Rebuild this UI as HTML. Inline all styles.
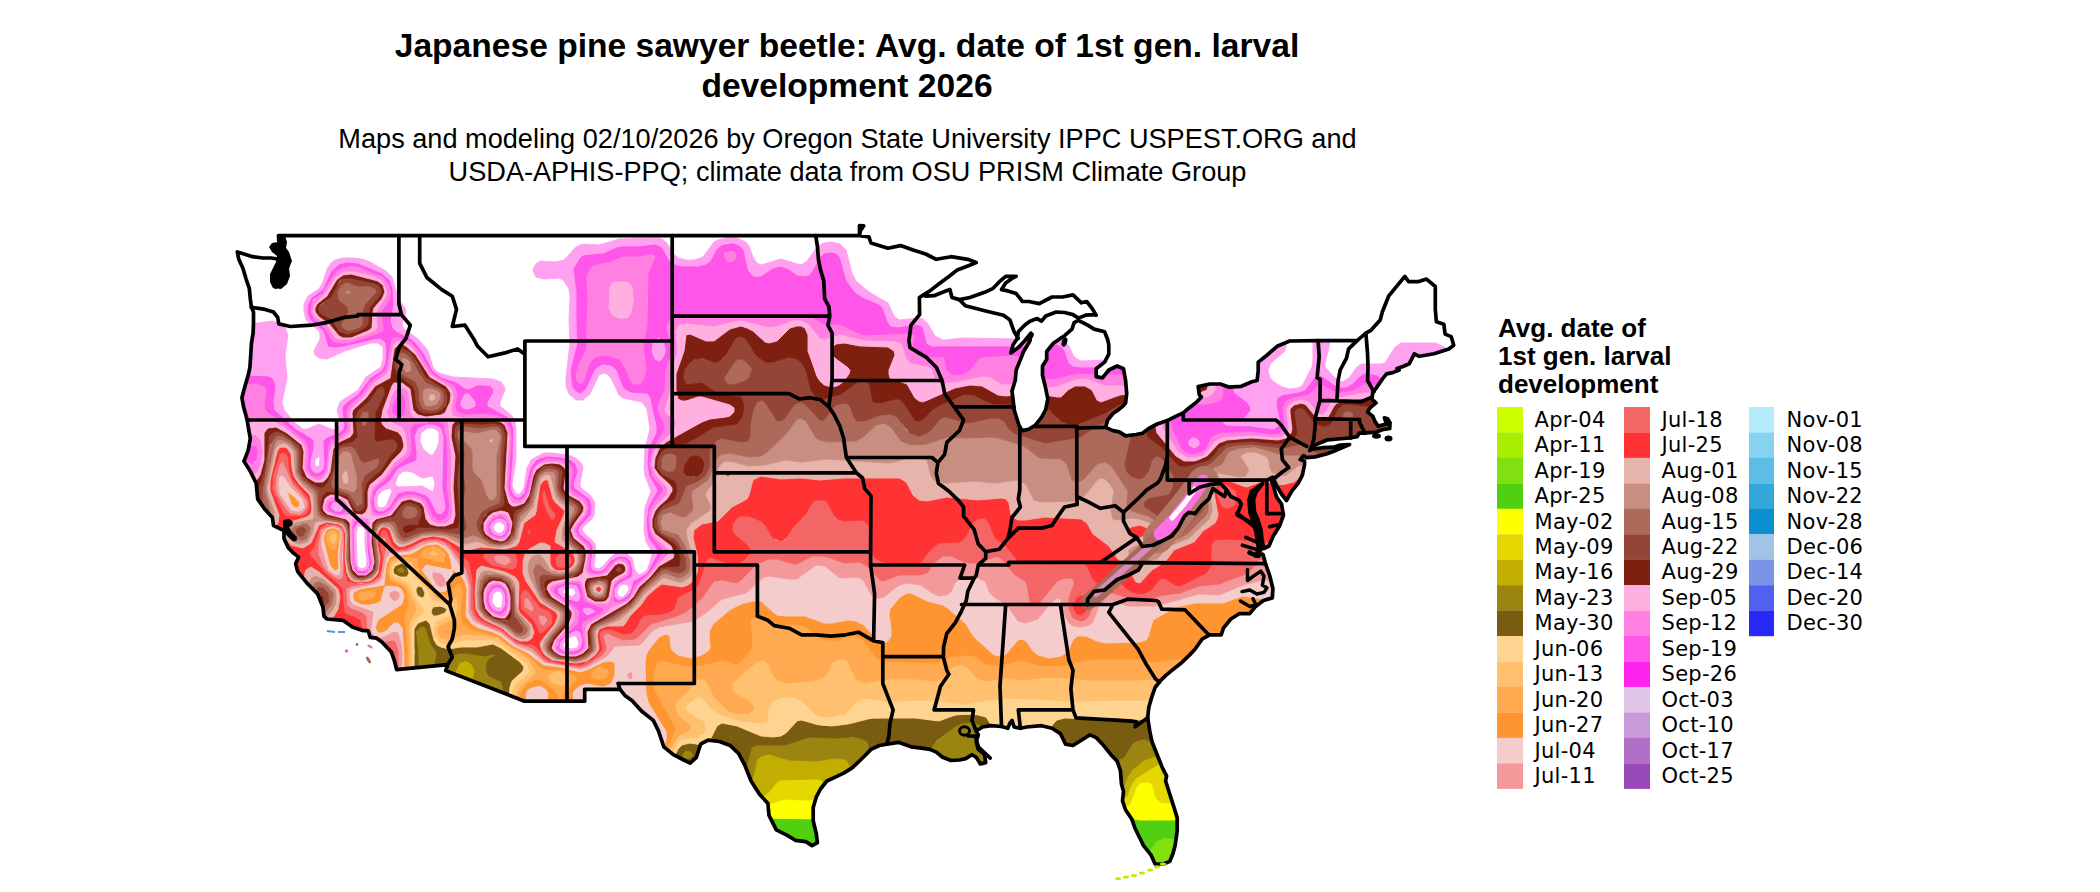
<!DOCTYPE html>
<html><head><meta charset="utf-8"><title>Japanese pine sawyer beetle</title>
<style>
html,body{margin:0;padding:0;background:#fff;}
body{width:2100px;height:892px;overflow:hidden;position:relative;}
svg{position:absolute;left:0;top:0;}
.t{font-family:"Liberation Sans",Arial,sans-serif;font-weight:bold;font-size:33.6px;fill:#000;}
.s{font-family:"Liberation Sans",Arial,sans-serif;font-size:27.15px;fill:#000;}
.lt{font-family:"Liberation Sans",Arial,sans-serif;font-weight:bold;font-size:26px;fill:#000;}
.lab{font-family:"DejaVu Sans",sans-serif;font-size:21px;letter-spacing:0.3px;fill:#000;}
</style></head><body>
<svg width="2100" height="892" viewBox="0 0 2100 892">
<defs><clipPath id="land"><path d="M237.3,251.9 L238.8,259.3 L243.0,268.5 L246.1,279.1 L249.3,288.3 L250.3,298.8 L251.4,307.3 L253.5,312.0 L253.5,322.6 L253.1,333.1 L251.4,343.6 L250.8,354.2 L249.9,367.3 L248.2,375.3 L245.1,385.8 L241.9,397.7 L243.6,406.9 L247.2,420.0 L248.2,426.6 L250.3,438.5 L248.2,450.4 L244.0,461.2 L250.3,471.4 L256.2,483.3 L257.7,499.1 L265.1,509.6 L272.4,517.5 L273.5,525.5 L284.0,530.7 L284.0,538.6 L288.2,547.8 L293.5,553.1 L298.7,557.1 L295.6,563.7 L297.7,571.6 L307.2,583.4 L317.7,594.0 L322.9,607.1 L324.0,616.4 L327.1,619.0 L342.9,620.3 L352.4,626.9 L361.9,630.3 L368.2,630.9 L370.3,637.4 L376.6,638.2 L381.8,641.9 L391.3,651.9 L394.5,661.2 L396.6,669.6 L447.7,664.6 L445.8,670.6 L524.5,701.2 L584.7,701.2 L584.7,689.3 L620.0,689.3 L624.9,695.4 L632.2,700.7 L641.7,711.2 L653.3,720.4 L658.5,731.0 L663.8,746.8 L673.3,754.7 L683.8,760.0 L690.1,763.1 L696.4,757.3 L700.6,744.2 L708.0,740.2 L719.5,741.5 L730.1,745.5 L738.5,753.4 L744.8,765.2 L751.1,781.0 L759.5,794.2 L767.9,803.4 L769.0,815.3 L776.3,829.8 L786.9,835.1 L795.3,840.3 L805.8,841.6 L812.1,845.6 L817.4,842.7 L816.3,833.7 L813.2,820.6 L813.2,807.4 L816.3,796.9 L820.5,789.0 L826.8,781.0 L835.3,777.1 L843.7,773.1 L852.1,767.9 L860.5,760.0 L865.8,754.7 L871.0,749.4 L879.4,745.5 L886.8,744.2 L898.4,742.3 L911.0,746.8 L921.5,748.1 L929.9,749.4 L936.3,752.1 L942.6,757.3 L951.0,760.5 L959.4,760.0 L965.7,758.6 L972.0,754.7 L976.2,757.3 L980.4,763.9 L985.7,762.6 L984.6,754.7 L978.3,749.4 L976.2,741.5 L978.3,734.9 L976.2,731.0 L982.5,727.0 L991.0,725.7 L1001.5,726.5 L1007.8,728.3 L1009.9,723.1 L1012.0,720.4 L1014.1,727.0 L1020.4,728.3 L1026.7,727.0 L1041.5,725.7 L1052.0,728.3 L1060.4,733.6 L1065.6,744.2 L1073.0,745.5 L1081.4,740.2 L1089.8,734.9 L1096.2,737.6 L1102.5,744.2 L1110.9,754.7 L1117.2,761.3 L1120.4,770.5 L1121.4,783.7 L1123.5,791.6 L1122.5,800.8 L1125.6,810.0 L1131.9,819.3 L1135.1,828.5 L1140.3,839.0 L1143.5,845.6 L1150.9,854.8 L1155.1,864.0 L1163.5,864.0 L1169.8,861.4 L1173.0,853.5 L1175.1,845.6 L1177.2,831.1 L1177.2,817.9 L1174.0,807.4 L1169.8,794.2 L1165.6,781.0 L1166.6,775.8 L1162.4,767.9 L1157.2,754.7 L1151.9,741.5 L1149.8,731.0 L1147.7,717.8 L1148.8,707.3 L1151.9,696.7 L1155.1,687.5 L1160.3,680.9 L1165.6,675.6 L1171.9,670.4 L1180.3,663.8 L1188.7,655.9 L1195.0,649.3 L1202.4,638.8 L1209.8,634.8 L1221.3,634.8 L1223.4,628.2 L1230.8,619.0 L1239.2,613.7 L1249.7,613.7 L1255.0,607.1 L1263.4,600.5 L1272.3,597.9 L1272.9,588.7 L1269.7,575.5 L1265.5,563.7 L1263.0,554.4 L1256.1,553.1 L1259.0,556.0 L1258.0,545.0 L1256.0,532.0 L1253.0,522.0 L1250.0,512.7 L1249.0,500.0 L1251.4,491.4 L1262.6,483.5 L1256.0,492.0 L1253.5,500.0 L1254.5,512.0 L1258.0,520.0 L1261.0,530.0 L1262.0,540.0 L1264.0,548.5 L1269.0,546.0 L1273.0,536.5 L1279.5,526.0 L1283.5,515.0 L1281.5,504.0 L1276.5,497.0 L1274.0,488.0 L1271.0,479.5 L1274.5,481.0 L1278.0,488.0 L1281.5,494.0 L1286.5,500.5 L1291.8,491.2 L1298.1,483.3 L1302.3,475.4 L1304.5,464.8 L1304.5,460.9 L1300.2,459.6 L1303.4,455.6 L1306.6,457.7 L1315.0,456.9 L1325.5,454.3 L1336.0,450.4 L1349.5,444.6 L1340.2,445.1 L1333.9,447.2 L1323.4,447.7 L1312.9,449.0 L1309.7,450.4 L1311.8,446.4 L1319.2,443.2 L1327.6,439.8 L1338.1,439.0 L1349.7,438.0 L1357.1,436.7 L1359.2,433.2 L1364.4,433.2 L1368.6,432.7 L1374.9,432.4 L1382.3,429.8 L1388.6,428.7 L1389.7,428.5 L1390.1,422.7 L1387.6,418.7 L1384.4,417.9 L1386.5,424.0 L1378.1,426.1 L1374.9,421.4 L1372.8,416.1 L1367.6,412.1 L1369.7,408.2 L1376.0,402.9 L1371.8,399.0 L1372.8,392.4 L1376.0,388.4 L1382.3,379.2 L1386.5,373.9 L1392.8,372.6 L1399.1,370.0 L1397.0,368.6 L1403.0,366.5 L1409.3,363.7 L1414.3,353.8 L1419.2,356.3 L1427.0,355.0 L1434.0,353.8 L1441.0,351.5 L1448.8,348.9 L1453.7,345.2 L1451.2,336.6 L1445.1,334.1 L1443.8,324.3 L1436.4,321.8 L1435.3,309.4 L1435.3,286.5 L1426.5,279.1 L1418.1,281.7 L1408.6,281.7 L1404.8,276.4 L1388.6,296.2 L1382.3,312.0 L1380.2,319.9 L1370.7,330.5 L1365.9,333.1 L1357.1,340.7 L1318.1,340.7 L1289.7,341.0 L1277.1,346.3 L1266.6,355.5 L1258.2,362.1 L1258.2,371.3 L1257.1,380.5 L1251.9,381.8 L1241.3,386.3 L1228.7,387.1 L1220.3,384.0 L1209.8,384.0 L1198.2,386.6 L1199.3,395.0 L1201.4,396.9 L1197.1,401.6 L1188.7,408.2 L1183.3,412.9 L1176.1,416.1 L1167.3,420.6 L1157.2,424.0 L1148.8,428.5 L1142.4,433.2 L1136.1,434.5 L1125.6,435.9 L1119.3,431.9 L1113.0,430.6 L1105.6,427.4 L1107.7,420.0 L1113.0,413.5 L1117.2,410.8 L1123.5,405.6 L1125.6,402.9 L1126.7,393.7 L1125.6,380.5 L1123.5,368.7 L1117.2,366.0 L1108.8,370.0 L1102.5,377.9 L1096.2,376.6 L1096.2,368.7 L1104.6,362.1 L1108.8,354.2 L1108.8,345.0 L1107.7,339.7 L1104.6,331.8 L1094.1,329.1 L1087.7,325.2 L1078.3,320.4 L1074.1,322.6 L1072.0,329.1 L1064.6,335.7 L1060.4,338.4 L1053.0,343.6 L1046.7,351.5 L1046.7,359.4 L1042.5,366.0 L1042.5,375.3 L1045.7,388.4 L1047.8,399.0 L1045.7,409.5 L1041.5,417.4 L1035.1,425.3 L1028.8,429.3 L1022.5,430.6 L1019.4,426.6 L1017.3,420.0 L1014.1,409.5 L1013.0,399.0 L1012.0,391.1 L1015.2,380.5 L1016.2,370.0 L1019.4,362.1 L1023.6,351.5 L1029.9,341.0 L1030.9,333.1 L1024.6,341.0 L1018.3,347.6 L1010.9,352.9 L1013.0,345.0 L1017.3,338.4 L1018.3,331.8 L1024.6,325.2 L1029.9,321.2 L1037.2,318.6 L1041.5,321.2 L1045.7,316.0 L1056.2,312.0 L1064.6,312.5 L1073.0,314.6 L1078.3,318.1 L1085.6,315.2 L1094.1,314.6 L1096.2,315.2 L1091.9,308.1 L1086.7,301.5 L1081.4,302.8 L1073.0,294.9 L1062.5,297.0 L1052.0,297.0 L1039.3,303.6 L1028.8,301.5 L1022.5,301.5 L1016.2,293.6 L1007.8,290.9 L1001.5,289.6 L1005.7,283.0 L1013.0,277.8 L1016.2,276.4 L1005.7,276.4 L999.4,281.7 L993.1,288.3 L984.6,292.3 L969.9,297.5 L959.4,299.6 L952.0,297.5 L949.9,289.6 L942.6,292.3 L934.1,295.7 L925.7,296.2 L923.6,294.9 L929.9,290.9 L938.4,284.3 L948.9,276.4 L957.3,269.9 L967.8,265.9 L976.2,262.5 L967.8,259.3 L951.0,256.7 L936.3,259.3 L925.7,254.0 L913.1,250.1 L900.5,245.6 L887.9,248.2 L871.0,243.0 L868.9,236.9 L859.5,235.6 L859.5,225.6 L863.7,225.9 L860.5,230.3 L859.5,235.6 L278.5,235.6 L278.8,240.9 L284.0,243.5 L284.0,251.4 L286.1,256.7 L288.2,264.6 L286.1,272.5 L284.0,280.4 L275.6,287.0 L279.8,275.1 L280.9,267.2 L278.8,259.3 L271.4,258.0 L263.0,258.0 L252.5,256.7 L244.0,254.0Z"/></clipPath></defs>
<text x="847" y="57" text-anchor="middle" class="t">Japanese pine sawyer beetle: Avg. date of 1st gen. larval</text>
<text x="847" y="96.6" text-anchor="middle" class="t">development 2026</text>
<text x="847.5" y="147.9" text-anchor="middle" class="s">Maps and modeling 02/10/2026 by Oregon State University IPPC USPEST.ORG and</text>
<text x="847.5" y="180.7" text-anchor="middle" class="s">USDA-APHIS-PPQ; climate data from OSU PRISM Climate Group</text>
<g clip-path="url(#land)">
<path d="M237.3,251.9 L238.8,259.3 L243.0,268.5 L246.1,279.1 L249.3,288.3 L250.3,298.8 L251.4,307.3 L253.5,312.0 L253.5,322.6 L253.1,333.1 L251.4,343.6 L250.8,354.2 L249.9,367.3 L248.2,375.3 L245.1,385.8 L241.9,397.7 L243.6,406.9 L247.2,420.0 L248.2,426.6 L250.3,438.5 L248.2,450.4 L244.0,461.2 L250.3,471.4 L256.2,483.3 L257.7,499.1 L265.1,509.6 L272.4,517.5 L273.5,525.5 L284.0,530.7 L284.0,538.6 L288.2,547.8 L293.5,553.1 L298.7,557.1 L295.6,563.7 L297.7,571.6 L307.2,583.4 L317.7,594.0 L322.9,607.1 L324.0,616.4 L327.1,619.0 L342.9,620.3 L352.4,626.9 L361.9,630.3 L368.2,630.9 L370.3,637.4 L376.6,638.2 L381.8,641.9 L391.3,651.9 L394.5,661.2 L396.6,669.6 L447.7,664.6 L445.8,670.6 L524.5,701.2 L584.7,701.2 L584.7,689.3 L620.0,689.3 L624.9,695.4 L632.2,700.7 L641.7,711.2 L653.3,720.4 L658.5,731.0 L663.8,746.8 L673.3,754.7 L683.8,760.0 L690.1,763.1 L696.4,757.3 L700.6,744.2 L708.0,740.2 L719.5,741.5 L730.1,745.5 L738.5,753.4 L744.8,765.2 L751.1,781.0 L759.5,794.2 L767.9,803.4 L769.0,815.3 L776.3,829.8 L786.9,835.1 L795.3,840.3 L805.8,841.6 L812.1,845.6 L817.4,842.7 L816.3,833.7 L813.2,820.6 L813.2,807.4 L816.3,796.9 L820.5,789.0 L826.8,781.0 L835.3,777.1 L843.7,773.1 L852.1,767.9 L860.5,760.0 L865.8,754.7 L871.0,749.4 L879.4,745.5 L886.8,744.2 L898.4,742.3 L911.0,746.8 L921.5,748.1 L929.9,749.4 L936.3,752.1 L942.6,757.3 L951.0,760.5 L959.4,760.0 L965.7,758.6 L972.0,754.7 L976.2,757.3 L980.4,763.9 L985.7,762.6 L984.6,754.7 L978.3,749.4 L976.2,741.5 L978.3,734.9 L976.2,731.0 L982.5,727.0 L991.0,725.7 L1001.5,726.5 L1007.8,728.3 L1009.9,723.1 L1012.0,720.4 L1014.1,727.0 L1020.4,728.3 L1026.7,727.0 L1041.5,725.7 L1052.0,728.3 L1060.4,733.6 L1065.6,744.2 L1073.0,745.5 L1081.4,740.2 L1089.8,734.9 L1096.2,737.6 L1102.5,744.2 L1110.9,754.7 L1117.2,761.3 L1120.4,770.5 L1121.4,783.7 L1123.5,791.6 L1122.5,800.8 L1125.6,810.0 L1131.9,819.3 L1135.1,828.5 L1140.3,839.0 L1143.5,845.6 L1150.9,854.8 L1155.1,864.0 L1163.5,864.0 L1169.8,861.4 L1173.0,853.5 L1175.1,845.6 L1177.2,831.1 L1177.2,817.9 L1174.0,807.4 L1169.8,794.2 L1165.6,781.0 L1166.6,775.8 L1162.4,767.9 L1157.2,754.7 L1151.9,741.5 L1149.8,731.0 L1147.7,717.8 L1148.8,707.3 L1151.9,696.7 L1155.1,687.5 L1160.3,680.9 L1165.6,675.6 L1171.9,670.4 L1180.3,663.8 L1188.7,655.9 L1195.0,649.3 L1202.4,638.8 L1209.8,634.8 L1221.3,634.8 L1223.4,628.2 L1230.8,619.0 L1239.2,613.7 L1249.7,613.7 L1255.0,607.1 L1263.4,600.5 L1272.3,597.9 L1272.9,588.7 L1269.7,575.5 L1265.5,563.7 L1263.0,554.4 L1256.1,553.1 L1259.0,556.0 L1258.0,545.0 L1256.0,532.0 L1253.0,522.0 L1250.0,512.7 L1249.0,500.0 L1251.4,491.4 L1262.6,483.5 L1256.0,492.0 L1253.5,500.0 L1254.5,512.0 L1258.0,520.0 L1261.0,530.0 L1262.0,540.0 L1264.0,548.5 L1269.0,546.0 L1273.0,536.5 L1279.5,526.0 L1283.5,515.0 L1281.5,504.0 L1276.5,497.0 L1274.0,488.0 L1271.0,479.5 L1274.5,481.0 L1278.0,488.0 L1281.5,494.0 L1286.5,500.5 L1291.8,491.2 L1298.1,483.3 L1302.3,475.4 L1304.5,464.8 L1304.5,460.9 L1300.2,459.6 L1303.4,455.6 L1306.6,457.7 L1315.0,456.9 L1325.5,454.3 L1336.0,450.4 L1349.5,444.6 L1340.2,445.1 L1333.9,447.2 L1323.4,447.7 L1312.9,449.0 L1309.7,450.4 L1311.8,446.4 L1319.2,443.2 L1327.6,439.8 L1338.1,439.0 L1349.7,438.0 L1357.1,436.7 L1359.2,433.2 L1364.4,433.2 L1368.6,432.7 L1374.9,432.4 L1382.3,429.8 L1388.6,428.7 L1389.7,428.5 L1390.1,422.7 L1387.6,418.7 L1384.4,417.9 L1386.5,424.0 L1378.1,426.1 L1374.9,421.4 L1372.8,416.1 L1367.6,412.1 L1369.7,408.2 L1376.0,402.9 L1371.8,399.0 L1372.8,392.4 L1376.0,388.4 L1382.3,379.2 L1386.5,373.9 L1392.8,372.6 L1399.1,370.0 L1397.0,368.6 L1403.0,366.5 L1409.3,363.7 L1414.3,353.8 L1419.2,356.3 L1427.0,355.0 L1434.0,353.8 L1441.0,351.5 L1448.8,348.9 L1453.7,345.2 L1451.2,336.6 L1445.1,334.1 L1443.8,324.3 L1436.4,321.8 L1435.3,309.4 L1435.3,286.5 L1426.5,279.1 L1418.1,281.7 L1408.6,281.7 L1404.8,276.4 L1388.6,296.2 L1382.3,312.0 L1380.2,319.9 L1370.7,330.5 L1365.9,333.1 L1357.1,340.7 L1318.1,340.7 L1289.7,341.0 L1277.1,346.3 L1266.6,355.5 L1258.2,362.1 L1258.2,371.3 L1257.1,380.5 L1251.9,381.8 L1241.3,386.3 L1228.7,387.1 L1220.3,384.0 L1209.8,384.0 L1198.2,386.6 L1199.3,395.0 L1201.4,396.9 L1197.1,401.6 L1188.7,408.2 L1183.3,412.9 L1176.1,416.1 L1167.3,420.6 L1157.2,424.0 L1148.8,428.5 L1142.4,433.2 L1136.1,434.5 L1125.6,435.9 L1119.3,431.9 L1113.0,430.6 L1105.6,427.4 L1107.7,420.0 L1113.0,413.5 L1117.2,410.8 L1123.5,405.6 L1125.6,402.9 L1126.7,393.7 L1125.6,380.5 L1123.5,368.7 L1117.2,366.0 L1108.8,370.0 L1102.5,377.9 L1096.2,376.6 L1096.2,368.7 L1104.6,362.1 L1108.8,354.2 L1108.8,345.0 L1107.7,339.7 L1104.6,331.8 L1094.1,329.1 L1087.7,325.2 L1078.3,320.4 L1074.1,322.6 L1072.0,329.1 L1064.6,335.7 L1060.4,338.4 L1053.0,343.6 L1046.7,351.5 L1046.7,359.4 L1042.5,366.0 L1042.5,375.3 L1045.7,388.4 L1047.8,399.0 L1045.7,409.5 L1041.5,417.4 L1035.1,425.3 L1028.8,429.3 L1022.5,430.6 L1019.4,426.6 L1017.3,420.0 L1014.1,409.5 L1013.0,399.0 L1012.0,391.1 L1015.2,380.5 L1016.2,370.0 L1019.4,362.1 L1023.6,351.5 L1029.9,341.0 L1030.9,333.1 L1024.6,341.0 L1018.3,347.6 L1010.9,352.9 L1013.0,345.0 L1017.3,338.4 L1018.3,331.8 L1024.6,325.2 L1029.9,321.2 L1037.2,318.6 L1041.5,321.2 L1045.7,316.0 L1056.2,312.0 L1064.6,312.5 L1073.0,314.6 L1078.3,318.1 L1085.6,315.2 L1094.1,314.6 L1096.2,315.2 L1091.9,308.1 L1086.7,301.5 L1081.4,302.8 L1073.0,294.9 L1062.5,297.0 L1052.0,297.0 L1039.3,303.6 L1028.8,301.5 L1022.5,301.5 L1016.2,293.6 L1007.8,290.9 L1001.5,289.6 L1005.7,283.0 L1013.0,277.8 L1016.2,276.4 L1005.7,276.4 L999.4,281.7 L993.1,288.3 L984.6,292.3 L969.9,297.5 L959.4,299.6 L952.0,297.5 L949.9,289.6 L942.6,292.3 L934.1,295.7 L925.7,296.2 L923.6,294.9 L929.9,290.9 L938.4,284.3 L948.9,276.4 L957.3,269.9 L967.8,265.9 L976.2,262.5 L967.8,259.3 L951.0,256.7 L936.3,259.3 L925.7,254.0 L913.1,250.1 L900.5,245.6 L887.9,248.2 L871.0,243.0 L868.9,236.9 L859.5,235.6 L859.5,225.6 L863.7,225.9 L860.5,230.3 L859.5,235.6 L278.5,235.6 L278.8,240.9 L284.0,243.5 L284.0,251.4 L286.1,256.7 L288.2,264.6 L286.1,272.5 L284.0,280.4 L275.6,287.0 L279.8,275.1 L280.9,267.2 L278.8,259.3 L271.4,258.0 L263.0,258.0 L252.5,256.7 L244.0,254.0Z" fill="#FFFFFF"/>
<path fill="#80E010" stroke="#80E010" stroke-width="0.9" fill-rule="evenodd" d="M1178 839l-18 0l-6 4l-6 11l6 12l10 0l7 -3l6 -17l1 -7z"/>
<path fill="#50D010" stroke="#50D010" stroke-width="0.9" fill-rule="evenodd" d="M1148 853l8 -12l8 -3l14 1l1 -19l-39 0l-11 -2l13 28l6 7zM815 819l-38 0l-9 -1l7 13l19 11l11 2l7 4l7 -4l0 -1l-4 -24z"/>
<path fill="#FFFF00" stroke="#FFFF00" stroke-width="0.9" fill-rule="evenodd" d="M1135 792l-5 12l-8 3l7 11l11 2l39 0l-5 -18l-6 1l-8 -1l-4 -4l-4 -13l-4 -3l-8 1l-5 9zM781 800l-15 5l2 13l47 1l0 -11l2 -8l-16 0l-12 -1l-8 1z"/>
<path fill="#E5D800" stroke="#E5D800" stroke-width="0.9" fill-rule="evenodd" d="M1162 762l-26 16l-4 5l-5 13l-7 5l2 6l8 -3l6 -16l4 -5l4 -1l4 0l4 2l4 14l4 4l8 1l6 -1l-6 -21l0 -6l-6 -13zM775 784l-6 8l-4 3l-6 1l7 9l19 -6l16 1l16 0l5 -10l4 -5l-6 -5l-8 -1l-31 1l-6 4z"/>
<path fill="#C2AE00" stroke="#C2AE00" stroke-width="0.9" fill-rule="evenodd" d="M422 640l0 -1l0 1zM453 676l19 7l3 -8l-1 -8l-5 -5l-8 0l-4 3l-4 11zM1159 755l-15 5l-14 12l-6 16l-3 5l-1 8l7 -5l5 -13l4 -5l26 -16l-3 -7zM757 761l-4 16l-4 5l10 14l6 -1l4 -3l8 -10l4 -2l35 -1l5 1l5 5l2 -2l24 -13l-4 -8l-8 -4l-24 3l-27 -1l-16 -5l-8 -1l-4 2l-4 5z"/>
<path fill="#9C8410" stroke="#9C8410" stroke-width="0.9" fill-rule="evenodd" d="M404 573l1 -3l-3 -3l-4 1l-1 2l1 3l6 0zM418 655l0 15l16 -2l3 -13l-11 -27l-4 -2l-4 3l-2 7l2 19zM422 639l0 1l0 -1zM454 675l5 -12l6 -2l4 1l4 4l2 5l-3 12l32 12l-1 -8l-2 -4l-12 -7l-3 -5l1 -8l2 -4l8 -4l-4 -1l-8 2l-20 -3l-12 2l-4 4l-3 14l8 2zM956 726l-21 17l-6 8l6 3l7 5l9 3l9 0l6 -1l6 -4l3 2l5 7l7 -2l-1 -10l-6 -6l-2 -6l2 -7l-1 -3l5 -3l-6 -6l-8 -1l-7 1l-7 3zM870 753l-1 -8l-1 -3l-8 -4l-51 -1l-24 8l-24 0l-8 1l-4 7l-4 18l4 11l4 -5l4 -17l4 -4l8 -2l20 6l27 1l20 -3l8 1l4 3l4 8l18 -17zM1121 793l7 -17l4 -6l12 -10l15 -5l-4 -12l-11 -4l-8 2l-4 3l-8 13l-4 2l-7 1l2 2l3 9l3 22zM734 738l0 -1l-4 -1l-1 1l5 1zM693 753l-3 -2l-4 -1l-3 3l-1 5l4 2l4 -1l3 -2l0 -4z"/>
<path fill="#7A5C10" stroke="#7A5C10" stroke-width="0.9" fill-rule="evenodd" d="M406 565l-4 -2l-7 3l-2 4l1 4l6 3l7 0l2 -4l0 -3l-3 -5zM399 573l-2 -3l1 -2l4 -1l3 3l-1 3l-5 0zM418 596l4 2l2 -1l1 -4l-3 -6l-4 -1l-2 3l2 7zM437 606l-4 1l-1 2l-1 3l2 4l8 -1l5 -3l1 -3l-2 -1l-8 -2zM415 651l-1 19l4 0l0 -15l-2 -23l2 -3l4 -3l4 2l5 16l5 7l1 4l-3 13l11 -1l-1 4l2 2l3 -14l4 -4l4 -1l8 -1l20 3l8 -2l4 1l-8 4l-2 4l-1 8l3 5l12 6l2 5l1 8l5 2l2 -14l12 -12l1 -4l-4 -5l-19 -14l-8 -4l-16 3l-16 0l-12 2l-8 -2l-4 -2l-3 -5l-4 -16l-4 -4l-8 3l-4 5l-1 8l2 15zM919 718l-51 1l-20 5l-20 2l-12 -1l-15 -5l-4 1l-11 12l-5 3l-8 1l-12 -1l-24 -10l-15 -3l-5 3l-8 16l10 1l10 4l8 8l8 16l6 -22l2 -3l4 -1l28 0l24 -8l27 1l16 -1l8 1l7 3l2 4l0 9l3 -3l8 -4l18 -3l13 5l18 2l7 -10l20 -15l7 -3l11 -1l8 4l2 3l9 -1l-6 -10l-9 -3l-19 0l-24 6l-16 -3zM730 736l4 1l-4 1l0 -2zM704 745l-14 -2l-8 2l-4 4l-4 8l17 8l7 -7l4 -12l2 -1zM690 751l3 2l0 4l-7 3l-4 -2l1 -5l3 -3l4 1zM1117 760l7 -3l8 -13l4 -3l8 -2l11 4l-5 -24l-10 1l-23 -2l-32 1l-20 -1l-8 2l-4 4l-3 6l9 5l6 11l9 1l16 -10l5 2l18 21l4 0z"/>
<path fill="#FFD490" stroke="#FFD490" stroke-width="0.9" fill-rule="evenodd" d="M394 577l12 5l4 3l4 12l9 12l0 3l-9 10l-3 6l1 42l2 0l0 -41l4 -6l8 -3l4 4l4 16l3 5l4 2l8 2l12 -2l16 0l16 -3l8 4l19 14l4 5l-1 4l-11 10l-2 6l-1 10l4 2l2 -12l12 -12l3 -4l-1 -4l-5 -7l-23 -16l-8 -4l-28 0l-16 4l-8 -1l-6 -7l-1 -8l3 -6l13 -6l3 -6l-1 -5l-19 -5l-7 -13l-11 -10l-4 -11l-5 -4l-8 -1l-4 2l-3 7l0 3l3 4zM407 577l-7 0l-6 -3l-1 -4l2 -4l7 -3l5 3l2 7l-2 4zM422 598l-4 -2l-2 -3l0 -4l2 -3l4 1l3 6l-1 4l-2 1zM447 609l-2 4l-8 3l-4 0l-2 -4l1 -3l1 -2l8 -1l6 3zM690 702l-4 4l0 4l4 4l12 6l3 6l0 4l-3 6l-4 1l-12 1l-8 4l-7 13l3 2l4 -8l4 -4l8 -2l12 2l7 -3l8 -16l5 -3l15 3l24 10l12 1l8 -1l5 -3l11 -12l4 -1l19 5l12 1l16 -2l24 -6l43 0l24 3l16 -6l15 -1l8 1l8 2l7 11l15 2l3 -5l2 4l7 1l21 -2l9 2l3 -6l4 -4l8 -2l20 1l32 -1l23 2l10 -1l1 -11l2 -8l-88 1l-27 -2l-36 -1l-36 6l-11 -1l-16 -3l-51 1l-24 -3l-8 4l-11 12l-9 3l-8 1l-8 -2l-5 -2l-14 -14l-8 -3l-8 0l-8 2l-5 3l-4 8l-1 12l-6 1l-20 -2l-19 -6l-8 -4l-12 -13l-4 -1l-8 5z"/>
<path fill="#FFC070" stroke="#FFC070" stroke-width="0.9" fill-rule="evenodd" d="M329 538l2 5l4 1l2 -6l-1 -4l-1 -1l-4 1l-2 4zM430 554l3 2l4 0l2 -2l-6 -4l-3 4zM390 564l-1 6l1 7l16 9l10 23l-1 3l-5 9l-2 7l1 42l3 0l-1 -42l3 -6l9 -10l0 -3l-9 -12l-4 -12l-4 -3l-12 -5l-3 -4l1 -7l6 -5l8 1l4 2l5 13l11 10l7 13l19 5l1 5l-3 6l-13 6l-3 6l1 8l6 7l8 1l16 -4l28 0l8 4l26 19l3 8l-3 4l-11 9l-3 6l0 9l4 1l0 -6l3 -7l14 -12l2 -4l-8 -11l-27 -19l-8 -4l-28 -3l-16 5l-8 -1l-3 -6l0 -4l3 -3l12 -5l3 -4l2 -7l-1 -11l-16 1l-5 -2l-10 -14l-8 -8l-4 -10l-4 -5l-12 -1l-4 1l-4 4zM836 660l-4 3l-6 12l-6 4l-8 2l-23 1l-8 0l-4 -2l-4 -5l-4 -10l-4 -4l-4 -1l-4 2l-12 11l-9 6l-4 4l-1 4l1 3l3 4l14 7l4 5l0 4l-4 3l-4 2l-8 -1l-10 -4l-12 -12l-9 -17l-4 -2l-4 0l-4 3l-5 8l-13 12l-1 4l2 8l13 12l0 4l-12 6l-10 17l3 2l7 -13l4 -3l16 -2l6 -4l1 -3l-1 -8l-14 -8l-4 -4l0 -4l4 -4l8 -5l4 1l12 13l8 4l19 6l20 2l6 -1l1 -12l4 -8l5 -3l8 -2l8 0l8 3l15 15l8 2l8 0l13 -3l11 -12l8 -4l24 3l51 -1l16 3l11 1l36 -6l36 1l27 2l88 -1l4 -12l6 -7l-7 -2l-20 1l-47 0l-40 -3l-27 3l-20 -2l-16 3l-8 -2l-12 -13l-7 -1l-7 2l-9 11l-8 3l-20 -2l-27 0l-24 4l-8 -4l-8 -17l-4 -3l-8 1zM548 676l4 7l8 3l4 0l4 -3l2 -4l-2 -4l-8 -4l-8 1l-4 4z"/>
<path fill="#FFAA50" stroke="#FFAA50" stroke-width="0.9" fill-rule="evenodd" d="M331 550l4 0l4 -7l1 -5l-1 -5l-4 -3l-5 0l-4 4l0 4l1 6l4 6zM329 538l2 -4l4 -1l1 1l1 4l-2 6l-4 -1l-2 -5zM402 557l-8 1l-4 2l-2 6l-1 7l3 8l10 4l5 4l2 8l1 8l-4 11l3 32l0 23l2 -1l0 -46l6 -12l1 -3l-10 -23l-12 -6l-4 -3l-1 -4l1 -7l2 -4l6 -3l4 0l10 3l6 13l8 8l10 14l5 2l16 -1l1 11l-2 7l-3 4l-12 5l-3 3l0 4l3 6l8 1l16 -5l24 2l8 2l31 21l8 12l-2 4l-14 12l-3 7l0 6l4 2l0 -8l4 -7l7 -5l8 -2l8 5l9 9l1 4l-2 5l9 0l-1 -5l0 -4l10 -11l3 -4l-2 -4l-11 -5l-20 -1l-4 -2l-12 -12l-16 -8l-15 -11l-20 -5l-12 -5l-3 -6l1 -27l-2 -9l-4 0l-7 9l-9 3l-5 -3l-16 -20l-2 -3l0 -12l23 4l4 -4l-3 -8l-5 -3l-7 0l-7 3l-5 8l-16 -1zM429 554l4 -4l6 4l-2 2l-4 0l-4 -2zM445 631l4 1l-4 0l0 -1zM568 675l2 4l-2 3l-4 4l-4 0l-8 -3l-3 -4l-1 -4l8 -4l4 0l8 4zM362 601l8 0l4 -3l3 -5l-3 -2l-4 -1l-12 3l0 4l4 4zM750 620l1 28l-6 9l-8 7l-3 0l-12 -4l-20 5l-12 1l-8 -1l-20 -5l-5 3l-4 12l1 15l20 36l1 4l-9 21l2 2l10 -17l12 -6l0 -4l-13 -12l-2 -8l1 -4l13 -12l5 -8l4 -3l4 0l4 2l9 17l12 12l10 4l11 0l5 -4l0 -4l-4 -5l-14 -7l-3 -4l0 -7l25 -21l4 -2l4 1l4 4l4 10l4 5l8 3l27 -2l8 -2l6 -4l6 -12l4 -3l4 -1l4 0l4 3l8 17l8 4l24 -4l27 0l20 2l8 -3l9 -11l7 -2l7 1l12 13l8 2l16 -3l20 2l27 -3l40 3l47 0l20 -1l7 2l23 -19l-4 -3l-6 0l-20 3l-20 -3l-43 0l-28 6l-16 1l-11 -1l-16 -5l-16 4l-12 1l-8 -1l-12 -8l-8 -1l-15 2l-16 6l-44 -2l-11 -2l-4 -1l-12 -17l-8 -5l-8 0l-12 5l-8 -1l-8 -2l-12 -10l-7 -3l-24 -1l-20 -7l-4 0l-3 3zM603 667l-10 4l-3 4l3 4l6 1l4 0l5 -5l1 -4l-2 -3l-4 -1z"/>
<path fill="#FF9530" stroke="#FF9530" stroke-width="0.9" fill-rule="evenodd" d="M299 501l-12 -10l4 12l3 4l6 0l0 -4l-1 -2zM331 567l4 4l3 -1l1 -3l-1 -13l3 -20l-2 -4l-4 -2l-4 0l-5 2l-3 8l1 8l7 21zM335 550l-4 0l-4 -6l-1 -6l0 -4l4 -4l5 0l4 3l1 5l-1 5l-4 7zM414 553l-24 4l-3 5l-3 23l-26 4l-5 4l0 4l1 4l4 3l12 1l8 -2l3 -2l3 -12l2 -3l12 1l4 3l2 7l-2 7l-24 16l-3 8l3 5l4 0l4 -2l8 -8l4 0l4 5l2 20l0 23l3 0l0 -23l-3 -32l4 -11l-1 -8l-2 -8l-3 -3l-12 -5l-3 -8l1 -7l2 -6l4 -2l12 -1l12 1l5 -8l10 -4l8 3l4 5l0 4l-2 4l-6 0l-15 -4l-4 0l0 8l2 7l13 17l4 4l8 1l5 -2l7 -9l4 0l2 9l-2 23l2 8l10 6l24 6l15 11l16 8l12 12l4 2l20 1l11 5l2 4l-3 4l-10 11l0 4l1 5l9 0l-1 -9l2 -4l5 -4l7 -2l16 3l4 -1l6 -3l2 -8l1 -8l-1 -4l-4 -2l-8 1l-16 8l-7 2l-20 -5l-16 -2l-16 -12l-16 -8l-11 -9l-8 -4l-14 -4l-7 -4l-6 -8l1 -27l-2 -7l-4 -7l-8 -5l-4 18l-4 3l-4 1l-5 -3l-14 -19l4 -5l25 5l1 -4l-3 -12l-7 -8l-5 -2l-7 0l-6 2l-10 7zM366 601l-4 0l-4 -3l0 -5l12 -3l4 1l3 2l-3 5l-8 3zM599 680l-6 -1l-3 -4l3 -4l6 -4l6 0l4 4l-1 4l-3 4l-6 1zM556 703l2 -5l-1 -4l-9 -9l-8 -5l-4 0l-8 4l-6 6l-1 4l0 8l6 1l-1 -9l2 -4l7 -3l5 -1l6 4l2 4l-1 9l9 0zM666 751l9 -21l-1 -4l-20 -36l-1 -15l4 -12l5 -3l20 5l8 1l12 -1l20 -5l12 4l3 0l8 -7l6 -9l1 -8l-2 -20l3 -3l8 2l16 5l24 1l7 3l12 10l8 2l8 1l12 -5l8 0l8 5l12 17l12 3l47 2l16 -6l15 -2l8 1l12 8l8 1l12 -1l16 -4l16 5l11 1l16 -1l28 -6l43 0l20 3l20 -3l6 0l4 3l11 -11l7 -11l6 -3l12 0l3 -8l7 -8l8 -5l11 -1l5 -6l8 -7l10 -3l-11 0l-20 -3l-20 7l-28 0l-15 3l-7 3l-20 11l-2 4l-2 12l-5 5l-8 2l-31 0l-8 -2l-11 -5l-9 0l-4 4l-5 11l-7 5l-12 2l-11 -3l-5 -4l-7 -10l-4 -2l-4 1l-12 14l-4 2l-8 -1l-20 -18l-8 -13l-17 -15l-6 -4l-16 -4l-16 -8l-4 0l-7 4l-10 12l-1 7l2 12l0 8l-3 5l-4 2l-8 -4l-12 -14l-8 -4l-8 -1l-20 4l-23 -8l-24 0l-8 -4l-12 -11l-4 -1l-12 3l-14 6l-18 15l-4 8l1 16l-2 3l-6 4l-12 3l-12 -3l-5 -4l-2 -3l-1 -12l-4 -2l-7 3l-11 14l-2 4l-1 8l1 31l4 12l16 24l1 7l-4 12l3 2zM445 632l4 0l-4 -1l0 1z"/>
<path fill="#F5CCCC" stroke="#F5CCCC" stroke-width="0.9" fill-rule="evenodd" d="M303 499l-11 -11l-9 -13l-4 1l-1 8l1 7l12 20l8 1l4 -2l2 -7l-2 -4zM295 497l5 6l-1 4l-4 1l-4 -4l-4 -13l8 6zM341 570l-1 -16l2 -20l-3 -6l-9 -1l-7 3l-1 4l-1 8l1 8l4 16l5 7l4 2l4 1l2 -6zM330 566l-7 -28l3 -8l5 -2l4 0l4 2l2 4l-3 20l1 13l-1 3l-3 1l-5 -5zM382 577l-2 4l-6 3l-23 5l-2 4l0 4l2 5l3 4l19 6l-2 16l0 4l3 4l8 2l12 -6l4 1l3 15l0 23l3 0l0 -16l-2 -27l-4 -5l-4 0l-8 8l-4 2l-4 0l-3 -5l3 -8l24 -16l2 -7l-2 -7l-4 -3l-12 -1l-2 3l-3 12l-3 2l-8 2l-8 0l-8 -4l-1 -4l0 -4l6 -4l25 -4l2 -20l4 -8l4 -2l16 -1l16 -9l11 -1l8 5l4 5l3 12l-1 4l-25 -5l-4 5l14 19l5 3l4 -1l4 -3l4 -18l8 5l4 7l2 7l-1 27l6 8l7 4l14 4l8 4l11 9l16 8l16 12l16 2l20 5l7 -2l16 -8l8 -1l4 2l0 12l-4 9l-8 3l-16 -3l-7 2l-5 4l-2 4l1 9l12 0l-3 -5l1 -4l3 -1l0 -2l32 0l21 22l12 9l7 15l4 12l3 -8l0 -9l-18 -30l-2 -8l-1 -31l1 -8l2 -4l11 -14l7 -3l4 2l1 12l2 3l5 4l12 3l12 -3l6 -4l2 -3l-1 -16l4 -8l18 -15l10 -5l12 -3l8 0l12 11l4 3l8 1l20 0l19 7l8 0l16 -3l8 1l8 4l12 14l8 4l4 -2l3 -5l0 -8l-2 -12l1 -7l10 -12l7 -4l4 0l16 8l16 4l6 4l17 15l8 13l20 18l8 1l4 -2l12 -14l4 -1l4 2l7 10l5 4l11 3l12 -2l7 -5l5 -11l4 -4l9 0l11 5l8 2l35 -1l6 -2l2 -3l5 -17l23 -13l19 -4l28 0l20 -7l20 3l11 0l1 -10l-2 -9l-6 -1l-28 7l-16 8l-8 1l-16 -1l-43 12l-28 0l-15 -5l-8 0l-6 4l-5 15l-3 4l-6 2l-8 0l-7 -2l-3 -4l-6 -20l-4 -2l-8 7l-11 14l-12 4l-8 -2l-11 -16l-13 -8l-4 -4l-5 -12l-7 -3l-12 -1l-7 2l-4 4l-4 9l-4 3l-8 1l-7 -3l-11 -8l-14 -2l-8 2l-15 12l-4 1l-4 0l-4 -2l-8 -15l-4 -3l-4 -1l-16 1l-12 -10l-8 -4l-8 3l-11 10l-4 2l-8 0l-20 -3l-5 1l-18 16l-24 6l-15 13l-13 9l-35 6l-8 5l-8 10l-4 3l-24 1l-7 9l-6 4l-15 8l-7 2l-36 -7l-13 -11l-15 -6l-15 -12l-20 -7l-8 -6l-4 -8l0 -23l-2 -12l-17 -27l-9 -7l-11 -1l-8 3l-12 6l-20 2l-4 5l-4 19zM445 577l0 7l-4 3l-4 -2l-4 -12l7 0l5 4zM390 593l4 -2l4 1l1 5l-1 2l-4 2l-4 -3l0 -5zM632 675l-1 4l-4 -4l4 -3l1 3zM547 703l1 -9l-2 -4l-6 -4l-8 2l-4 2l-2 4l1 9l20 0z"/>
<path fill="#F4999B" stroke="#F4999B" stroke-width="0.9" fill-rule="evenodd" d="M287 511l7 4l9 -2l4 -4l1 -6l-4 -8l-11 -11l-10 -23l-4 4l-3 12l-1 11l2 7l10 16zM299 512l-8 -1l-12 -18l-1 -9l1 -8l4 -1l9 13l11 11l2 8l-2 3l-4 2zM327 572l4 4l8 4l4 -2l-1 -24l2 -20l-1 -4l-4 -3l-4 -2l-8 1l-4 2l-4 10l-1 16l9 18zM339 576l-4 -1l-7 -5l-7 -24l0 -8l2 -6l4 -4l4 -2l8 2l3 6l-2 20l1 16l-2 6zM374 582l-8 2l-15 2l-4 1l-1 6l1 10l4 6l11 4l4 3l1 16l4 8l5 0l3 3l15 -2l2 3l2 7l0 20l3 0l1 -16l-1 -11l-3 -11l-4 -1l-12 6l-8 -2l-3 -4l0 -4l2 -16l-20 -7l-3 -4l-1 -8l2 -4l23 -5l6 -3l2 -4l4 -19l4 -5l20 -2l12 -6l8 -3l7 0l9 4l4 4l15 23l4 13l0 26l4 8l4 3l24 10l15 12l15 6l13 11l36 7l7 -2l15 -8l6 -4l7 -9l24 -1l4 -3l8 -10l8 -5l35 -6l13 -9l15 -13l24 -6l18 -16l5 -1l20 3l8 0l19 -14l9 1l15 12l16 -1l4 1l4 3l8 15l4 2l4 0l4 -1l15 -12l8 -2l14 2l11 8l7 3l8 -1l4 -3l4 -9l4 -4l7 -2l12 1l7 3l5 12l4 4l13 8l11 16l8 2l12 -4l11 -14l8 -7l4 2l4 16l4 7l4 3l8 1l8 -2l4 -3l6 -17l6 -4l8 0l15 5l28 0l43 -12l20 1l24 -10l20 -5l10 0l-7 -22l-3 1l-6 3l-6 8l-8 5l-24 9l-20 2l-19 7l-16 2l-12 3l-12 2l-12 -2l-15 -5l-12 1l-4 3l-3 4l-5 15l-4 4l-4 1l-8 -3l-4 -9l0 -12l5 -12l0 -4l-1 -2l-4 -1l-4 0l-8 3l-16 20l-3 3l-4 1l-4 -2l-2 -14l-2 -7l-12 -8l-12 -15l-4 -2l-4 0l-16 6l-8 0l-6 -1l-13 -6l-8 0l-8 6l-8 11l-8 2l-20 0l-15 6l-4 -1l-12 -13l-8 -5l-16 1l-16 -6l-8 -1l-8 0l-15 8l-4 0l-16 -5l-8 0l-12 5l-6 6l-10 10l-4 3l-15 -3l-8 1l-12 17l-16 14l-12 5l-23 7l-12 12l-4 3l-12 1l-16 -7l-4 3l3 12l-1 3l-3 4l-15 10l-7 2l-32 -5l-5 -3l-11 -11l-16 -5l-15 -12l-16 -6l-8 -5l-3 -4l-3 -7l0 -24l-4 -15l-14 -20l-4 -4l-8 -5l-8 -1l-7 1l-16 8l-12 2l-5 -1l-7 -4l0 -8l-4 -1l0 4l4 5l-4 24l-2 7l-6 5zM493 558l2 4l6 3l4 1l3 -2l3 -2l-1 -4l-5 -3l-8 0l-4 3zM437 573l-4 0l0 4l4 8l4 2l4 -2l0 -6l-4 -5l-4 -1zM394 601l4 -2l1 -2l0 -4l-5 -2l-4 2l0 4l4 4zM524 598l0 9l8 5l2 -3l-4 -8l-2 -3l-4 0zM538 616l2 8l4 2l4 -6l-3 -4l-5 -1l-2 1zM630 679l1 0l1 -4l-1 -3l-4 3l3 4zM584 694l-1 4l3 5l1 -10l-3 1zM660 742l-1 -5l-1 -1l2 6z"/>
<path fill="#F46666" stroke="#F46666" stroke-width="0.9" fill-rule="evenodd" d="M282 511l5 6l12 0l8 -3l3 -7l-1 -8l-2 -3l-14 -16l-3 -8l-2 -16l-5 -4l-4 2l0 2l-7 28l2 11l8 16zM307 509l-4 4l-4 2l-8 -1l-4 -3l-10 -16l-2 -7l1 -11l3 -12l4 -4l10 23l13 15l2 4l-1 6zM1231 487l-8 -3l-4 2l-2 5l2 11l4 6l4 1l6 -2l4 -8l-1 -8l-5 -4zM550 507l-6 -19l-2 7l1 8l5 12l4 5l4 -5l-6 -8zM793 527l-8 13l-4 1l-4 0l-4 -3l-10 -15l-5 -4l-13 -4l-8 3l-4 5l-1 7l2 4l14 12l2 4l-1 4l-4 5l-8 5l-7 0l-20 -7l-4 4l-5 16l-3 8l-8 6l-12 6l-4 12l-5 3l-7 2l-15 1l-4 1l-3 4l-4 8l-5 5l-8 1l-12 -5l-8 1l-3 2l-1 4l3 12l-1 3l-8 8l-13 6l-16 -1l-16 -4l-6 -5l-6 -9l-4 -2l-8 0l-8 -3l-15 -12l-20 -9l-4 -5l-3 -6l-1 -30l-4 -17l-16 -16l-8 -5l-8 -3l-7 0l-8 2l-16 8l-8 1l-5 -3l-7 -16l-4 0l-3 8l3 16l-2 19l-6 7l-12 4l-11 -1l-5 -6l-2 -19l1 -24l-2 -6l-4 -3l-8 -1l-10 3l-2 3l-5 16l-5 8l16 19l14 12l3 4l2 23l3 3l11 3l4 6l1 8l4 1l2 6l2 1l-4 -8l-1 -16l-4 -3l-11 -4l-4 -4l-1 -16l5 -3l15 -2l8 -2l6 -5l6 -31l-4 -5l0 -4l4 1l0 8l7 4l5 1l9 -1l15 -8l8 -2l7 0l7 2l9 8l14 20l4 15l0 24l3 7l3 4l8 5l16 6l15 12l16 5l11 11l5 3l32 5l7 -2l15 -10l3 -4l1 -3l-3 -12l4 -3l16 7l12 -1l4 -3l12 -12l23 -7l12 -5l16 -14l12 -17l8 -1l15 3l4 -3l10 -10l6 -6l12 -5l8 0l16 5l4 0l15 -8l8 0l8 1l16 6l16 -1l8 5l12 13l4 1l15 -6l20 0l8 -2l8 -11l8 -6l8 0l13 6l6 1l8 0l16 -6l4 0l4 2l12 15l12 8l2 7l2 14l4 2l4 -1l3 -3l16 -20l8 -3l4 0l4 1l1 2l0 4l-5 12l0 12l4 9l8 3l4 -1l4 -4l5 -15l3 -4l4 -3l12 -1l15 5l12 2l12 -2l12 -3l16 -2l19 -7l20 -2l24 -9l8 -5l8 -10l7 -2l-1 -5l-4 -1l-2 -11l-24 -2l-16 0l-6 3l-2 3l0 21l-5 7l-26 13l-5 -1l-11 -7l-4 1l-8 10l-7 4l-5 1l-8 -2l-5 -3l-7 -7l-3 -1l-16 3l-4 -1l-4 -4l-6 -13l-6 -5l-20 1l-16 -2l-15 3l-8 0l-4 -2l-12 -15l-11 -8l-6 -15l-3 -4l-4 -1l-4 1l-6 4l-6 13l-3 4l-4 2l-20 1l-8 6l-10 13l-6 3l-16 -2l-11 0l-8 -2l-5 -3l-5 -8l0 -20l-4 -7l-6 -3l-16 1l-6 -2l-4 -4l-6 -12l-5 -4l-7 1l-4 3l-7 12l-12 12zM344 538l-1 40l-4 2l-11 -7l-5 -7l-5 -12l0 -8l2 -12l1 -4l4 -3l10 -2l4 2l4 3l1 8zM1079 597l6 0l2 4l-1 8l-1 3l-4 3l-4 -1l-3 -5l2 -8l3 -4zM384 647l6 1l3 3l2 19l3 1l0 -20l-2 -7l-2 -3l-15 2l5 4zM1273 542l-13 -1l3 9l2 0l5 -3l3 -5zM528 536l2 -2l1 -4l-3 0l0 6zM294 567l8 -9l-3 -4l-9 -2l6 6l-2 5l0 4zM492 566l20 4l4 -2l2 -6l-2 -8l-4 -2l-11 -1l-12 1l-6 2l0 4l9 8zM497 563l-4 -5l4 -3l8 0l5 3l1 4l-3 2l-3 2l-8 -3zM569 566l3 -4l-1 -4l-3 -4l-8 -1l-4 4l-1 5l1 4l4 2l4 0l5 -2zM524 612l9 8l7 14l8 -5l5 -9l0 -4l-1 -2l-12 -7l-12 -16l-4 -2l-4 7l0 5l0 6l4 5zM532 612l-8 -5l0 -9l4 0l4 6l2 5l-2 3zM544 626l-4 -2l-2 -8l2 -1l5 1l3 4l-4 6z"/>
<path fill="#FF3333" stroke="#FF3333" stroke-width="0.9" fill-rule="evenodd" d="M279 519l-4 9l7 4l0 7l5 10l3 3l9 2l3 4l-8 9l2 6l8 10l1 -10l1 -3l5 -3l8 5l19 17l2 8l-2 12l-4 7l-6 5l14 1l8 6l4 0l1 2l8 2l-3 -12l-6 -3l-7 -2l-3 -3l-2 -23l-3 -4l-14 -12l-16 -19l5 -8l5 -16l2 -3l6 -3l8 0l4 1l4 3l2 6l-1 20l1 19l3 8l6 2l16 -1l8 -5l3 -7l1 -12l-3 -20l3 -8l4 0l7 16l5 3l8 -1l20 -9l11 -1l12 5l20 19l4 17l1 30l3 7l4 4l20 9l15 12l8 3l8 0l4 2l6 9l6 5l16 4l16 1l13 -6l8 -8l1 -3l-3 -12l1 -4l3 -2l8 -1l12 5l8 -1l5 -5l4 -8l3 -4l4 -1l15 -1l7 -2l5 -3l4 -12l12 -6l8 -6l3 -8l5 -16l4 -4l20 7l7 0l8 -5l4 -5l1 -4l-2 -4l-14 -12l-2 -4l1 -7l4 -5l4 -2l8 0l12 5l4 4l8 13l8 3l5 -3l7 -11l12 -12l7 -12l4 -3l8 0l4 3l6 12l4 4l6 2l16 -1l4 1l4 4l2 5l0 20l5 8l5 3l8 2l11 0l12 2l4 0l6 -3l10 -13l8 -6l20 -1l4 -2l3 -4l6 -13l6 -4l4 -1l4 1l3 4l6 15l11 8l12 15l4 2l8 0l15 -3l16 2l20 -1l6 5l6 13l4 4l4 1l16 -3l3 1l7 7l5 3l8 2l5 -1l7 -4l8 -10l4 -1l11 7l5 1l26 -13l5 -7l0 -20l2 -4l2 -2l16 -1l28 2l-1 -10l-6 -19l-1 -12l3 -8l-2 8l1 12l6 18l1 11l13 1l8 -15l4 -12l-2 -12l-5 -7l-2 -7l9 13l3 0l12 -18l5 -11l-11 9l-12 3l-19 -4l-16 6l-4 -1l-16 -6l-9 0l-3 2l-2 6l5 27l-1 4l-2 4l-12 8l-9 11l-20 8l-9 12l-13 8l-12 13l-4 -1l-7 -12l-12 -12l-8 -12l-16 -12l-6 -11l-6 -4l-36 -2l-19 3l-8 0l-4 -2l-3 -3l-2 -12l-3 -4l-4 -1l-24 2l-31 -3l-20 4l-8 -1l-6 -5l-6 -12l-4 -3l-4 -2l-55 0l-24 2l-19 -2l-20 1l-20 -3l-8 4l-4 15l-2 4l-15 8l-14 14l-16 3l-4 3l-4 3l-1 8l4 16l1 12l-1 7l-4 8l-5 4l-6 2l-20 -3l-7 5l-8 7l-6 9l-11 11l-5 8l-2 2l-16 0l-8 3l-2 7l2 12l-1 3l-3 4l-8 6l-11 2l-24 -3l-7 -5l-3 -4l-2 -7l2 -4l13 -16l3 -8l-2 -4l-16 -10l-14 -21l-3 -8l0 -11l2 -8l3 -4l12 -7l4 0l6 3l0 16l1 4l4 4l5 1l8 -1l5 -4l2 -4l0 -4l-3 -6l-17 -10l2 -12l7 -15l1 -4l-9 -8l-3 -4l-5 -19l-4 0l-4 5l-4 27l-1 3l-11 8l-5 19l-3 4l-11 3l-24 -2l-12 3l-4 0l-20 -12l-12 -2l-11 2l-12 6l-8 3l-4 -1l-4 -4l-4 -12l-4 -3l-4 0l-3 3l-2 4l0 8l3 16l-2 15l-4 5l-12 4l-8 0l-6 -5l-3 -15l0 -32l-2 -4l-4 -2l-12 -2l-8 3l-8 18l-8 5l-12 -3l-6 -7l-1 -11l3 -4l20 -6l4 -3l1 -7l-2 -12l-11 -11l-5 -8l-3 -24l-4 -4l-4 -1l-4 1l-3 7l-6 29l0 7l8 20l1 8zM310 507l-3 7l-4 2l-16 1l-4 -4l-9 -18l-2 -7l1 -12l6 -20l0 -2l4 -2l5 4l2 16l3 8l16 19l1 8zM1218 488l5 -4l4 1l5 3l4 3l1 8l-2 6l-4 3l-4 1l-4 -1l-4 -6l-2 -7l1 -7zM543 503l-1 -8l2 -7l6 19l6 8l-2 4l-2 1l-4 -5l-5 -12zM531 530l-1 4l-2 2l0 -6l3 0zM512 570l-20 -4l-9 -8l0 -4l6 -2l12 -1l11 1l4 2l2 8l-2 6l-4 2zM559 554l5 -1l4 1l3 4l1 4l-3 4l-5 2l-4 0l-4 -2l-1 -8l4 -4zM518 581l0 28l2 4l11 11l3 8l-1 4l-3 4l-6 1l-8 -2l-14 -11l-17 -8l-7 -8l-2 -7l0 -32l1 -4l4 -3l27 8l7 3l3 4zM550 612l3 4l-1 8l-8 8l-4 2l-7 -14l-12 -11l-1 -13l4 -7l4 2l12 16l10 5zM393 665l0 -14l-3 -3l-6 -1l6 6l3 12zM730 476l0 -4l-4 0l0 5l4 -1zM1128 534l4 3l8 1l7 -4l2 -4l-5 -4l-8 -1l-5 2l-3 3l0 4zM599 593l3 -4l-3 -3l-4 3l4 4zM1077 598l-3 7l0 4l3 5l4 1l4 -3l1 -3l1 -8l-2 -4l-4 -1l-4 2z"/>
<path fill="#E6B4AA" stroke="#E6B4AA" stroke-width="0.9" fill-rule="evenodd" d="M433 401l3 -3l-2 -4l-4 0l-2 4l2 3l3 0zM489 442l4 1l0 -6l-4 3l0 2zM268 480l0 15l6 16l-2 15l3 2l3 -5l1 -8l-9 -24l0 -11l7 -28l2 -4l4 -1l4 1l4 6l1 14l2 8l5 8l11 11l2 12l-1 7l-4 3l-20 6l-3 4l1 11l6 7l12 3l8 -5l8 -18l8 -3l12 2l4 3l3 7l-1 24l2 15l4 7l7 2l12 -1l5 -4l3 -4l2 -15l-3 -16l0 -8l2 -4l3 -3l4 0l4 3l4 12l4 4l4 1l8 -3l12 -6l11 -2l12 2l20 12l4 0l12 -3l24 2l11 -3l3 -4l5 -19l11 -8l1 -3l4 -27l4 -5l4 0l5 19l3 4l9 8l-1 4l-7 15l-2 12l17 10l3 6l0 4l-2 4l-5 4l-8 1l-5 -1l-4 -4l-1 -4l0 -16l-6 -3l-4 0l-12 7l-3 4l-2 8l0 11l3 8l14 21l16 10l2 4l-3 8l-13 16l-2 4l2 7l3 4l7 5l24 3l11 -2l8 -6l3 -4l1 -3l-2 -12l2 -7l8 -3l16 0l2 -2l5 -8l11 -11l6 -9l8 -7l7 -5l20 3l6 -2l5 -4l4 -8l1 -7l-1 -12l-4 -16l1 -8l4 -3l4 -3l16 -3l14 -14l15 -8l2 -4l4 -15l8 -4l20 3l20 -1l19 2l24 -2l55 0l4 2l4 3l6 12l6 5l8 1l20 -4l31 3l24 -2l4 1l3 4l2 12l3 3l4 2l8 0l19 -3l36 2l6 4l6 11l16 12l8 12l12 12l7 12l4 1l12 -13l13 -8l9 -12l20 -8l9 -11l12 -8l2 -4l1 -4l-5 -27l2 -6l3 -2l9 0l16 6l4 1l16 -6l15 4l8 -1l8 -2l11 -9l1 -10l-8 3l-12 9l-8 1l-6 -4l-2 -4l-1 -8l-3 -4l-11 -4l-8 0l-4 2l-3 2l8 12l0 4l-3 4l-6 1l-20 -4l-7 3l-3 4l3 31l-3 8l-20 19l-20 8l-13 13l-8 4l-8 1l-8 -6l-3 -4l0 -4l7 -4l16 -5l4 -4l1 -7l-2 -3l-5 -4l-10 -4l-8 -1l-15 2l-4 -1l-2 -8l3 -20l-4 -7l-5 -5l-4 -1l-4 2l-12 15l-8 6l-36 1l-7 -2l-8 -16l-8 -4l-24 3l-20 -2l-27 2l-12 -2l-4 -5l-4 -16l-8 -4l-8 1l-16 5l-7 1l-60 -4l-27 3l-16 -2l-20 5l-16 1l-15 -4l-8 -1l-4 2l-4 5l-6 16l-5 7l-2 4l6 12l-2 4l-18 12l-5 7l1 8l7 24l-1 8l-3 7l-8 5l-4 0l-12 -4l-4 0l-3 3l-14 12l-10 13l-16 14l-21 8l-3 4l1 16l-1 3l-8 8l-11 3l-20 -3l-8 -4l-3 -4l-2 -3l2 -8l13 -16l3 -8l-1 -4l-16 -10l-4 -4l-10 -21l-2 -7l1 -8l3 -5l4 -2l4 0l3 3l7 12l10 3l12 -3l4 -4l2 -4l0 -8l-2 -3l-12 -9l-2 -4l1 -11l7 -16l-2 -4l-8 -5l-4 -5l-5 -21l-3 -2l-4 1l-4 4l-7 28l-13 16l-3 15l-5 6l-11 3l-12 -1l-12 -5l-12 3l-4 0l-16 -8l-12 -1l-11 1l-12 6l-8 2l-4 -2l-8 -15l-8 -2l-4 3l-2 6l3 24l-1 12l-5 7l-11 4l-8 -1l-3 -3l-2 -4l-3 -15l1 -24l-1 -4l-3 -6l-8 -3l-16 0l-4 1l-3 12l-5 8l-8 2l-5 -2l-4 -4l-2 -8l3 -5l4 -2l16 -3l3 -1l0 -16l-1 -8l-11 -11l-6 -8l-1 -8l-1 -16l-2 -3l-5 -5l-8 -1l-3 4l-8 33zM730 476l-4 1l0 -5l4 0l0 4zM1140 538l-8 -1l-4 -3l0 -4l3 -3l9 -2l5 2l3 2l-1 5l-7 4zM349 480l-2 -10l-4 3l-1 7l1 3l5 1l1 -4zM670 523l-4 -1l0 1l0 1l4 -1zM308 587l3 -8l4 -3l8 3l11 10l2 8l-1 8l-4 7l-7 7l4 2l6 -5l4 -7l2 -12l-2 -8l-19 -17l-8 -5l-5 3l-1 3l-1 10l4 4zM475 593l1 16l4 7l5 4l17 8l10 9l8 4l8 0l4 -3l2 -6l-3 -8l-11 -11l-2 -4l1 -24l-1 -4l-3 -4l-10 -5l-24 -6l-4 4l-2 23zM499 573l10 4l4 4l2 4l1 24l4 7l8 8l2 4l-1 8l-5 3l-8 -2l-11 -9l-17 -8l-5 -4l-5 -7l-1 -20l3 -16l5 -2l14 2zM599 595l4 -2l1 -4l-1 -4l-4 -1l-5 1l-2 4l2 4l5 2zM599 593l-4 -4l4 -3l3 3l-3 4zM354 629l-3 -2l-1 1l5 2l-1 -1z"/>
<path fill="#C98E82" stroke="#C98E82" stroke-width="0.9" fill-rule="evenodd" d="M345 292l2 2l4 0l0 -2l-4 -2l-2 2zM406 358l-4 1l-1 8l3 3l6 2l2 -2l0 -3l-6 -9zM441 398l0 -4l-4 -4l-7 -2l-4 0l-3 2l-1 8l0 4l4 4l4 1l7 -1l4 -8zM433 401l-3 0l-2 -3l2 -4l4 0l2 4l-3 3zM785 435l-18 17l-10 5l-8 0l-19 -4l-8 1l-6 6l-8 20l-16 11l-1 4l2 12l-1 4l-6 5l-4 1l-12 -5l-8 3l-2 8l2 7l16 5l7 11l5 16l-1 8l-1 3l-6 4l-4 1l-12 -5l-4 1l-3 3l-16 14l-12 16l-16 12l-16 6l-4 3l-2 4l1 16l-1 3l-4 4l-6 4l-7 2l-20 -3l-5 -3l-4 -4l-1 -7l5 -8l10 -12l2 -4l1 -6l-4 -5l-12 -7l-6 -5l-4 -8l-4 -16l0 -3l2 -5l4 0l5 5l7 4l8 1l8 -1l8 -4l4 -8l0 -10l-12 -10l-4 -8l1 -7l10 -16l-1 -4l-13 -8l-3 -4l-2 -7l0 -12l-2 -4l-6 -1l-4 1l-5 4l-3 8l-4 19l-4 6l-8 7l-6 22l-6 6l-11 1l-8 -2l-12 -7l-4 -1l-12 4l-16 -5l-12 -1l-11 1l-16 7l-4 0l-4 -3l-4 -11l-4 -4l-8 0l-5 4l-2 7l3 28l-1 8l-2 3l-4 4l-9 3l-9 -3l-4 -7l-2 -12l1 -24l-2 -7l-3 -4l-20 -4l-5 -4l-2 -20l-2 -4l-13 -11l-4 -8l0 -20l-2 -3l-4 -5l-8 -4l-4 -1l-3 2l-4 8l-7 35l0 11l5 16l-1 6l2 8l3 -10l0 -4l-6 -16l-1 -7l5 -25l3 -14l3 -4l5 -2l4 1l5 5l2 3l1 16l1 8l6 8l11 11l1 8l0 16l-3 1l-16 3l-4 2l-3 5l2 8l4 4l5 2l8 -2l5 -8l3 -12l4 -1l16 0l8 3l3 6l1 4l-1 24l3 15l2 4l3 3l8 1l11 -4l5 -7l1 -12l-3 -24l2 -6l4 -3l8 2l8 15l4 2l8 -2l12 -6l11 -1l12 1l16 8l4 0l12 -3l12 5l12 1l11 -3l5 -6l3 -15l13 -16l7 -28l4 -4l4 -1l3 2l5 21l4 5l8 5l2 4l-7 16l-1 11l2 4l12 9l2 3l0 8l-2 4l-4 4l-12 3l-10 -3l-7 -12l-3 -3l-4 0l-4 2l-3 5l-1 8l2 7l10 21l4 4l16 10l1 4l-3 8l-13 16l-2 8l2 3l3 4l8 4l20 3l11 -3l8 -8l1 -3l-1 -16l3 -4l21 -8l16 -14l10 -13l14 -12l3 -3l4 0l12 4l4 0l8 -5l3 -7l1 -8l-7 -24l-1 -8l5 -7l18 -12l2 -4l-6 -12l2 -4l5 -7l6 -16l4 -5l4 -2l8 1l15 4l16 -1l20 -5l16 2l27 -3l60 4l7 -1l16 -5l8 -1l8 4l4 16l4 5l12 2l27 -2l20 2l24 -3l8 4l8 16l7 2l36 -1l8 -6l12 -15l4 -2l4 1l5 5l4 7l-3 20l2 8l4 1l15 -2l8 1l10 4l5 4l2 3l-1 7l-4 4l-16 5l-7 4l0 4l3 5l4 3l8 2l14 -6l11 -12l20 -8l20 -19l3 -8l-3 -31l3 -4l7 -3l20 4l6 -1l3 -4l0 -4l-8 -12l3 -2l4 -2l8 0l11 4l3 4l1 8l2 4l6 4l8 -1l12 -9l8 -3l0 -3l9 -1l-17 -4l-16 0l-23 -7l-16 -1l-12 4l-3 1l-6 12l-18 8l-2 4l4 15l2 12l0 8l-2 4l-19 19l-7 4l-8 1l-4 -1l-3 -4l-4 -7l-5 -6l-8 -5l-16 -5l-5 -4l0 -4l1 -12l-2 -3l-13 -20l-4 -4l-4 -2l-8 2l-12 14l-4 3l-4 1l-5 -2l-5 -16l-6 -5l-20 -1l-3 -1l-10 -8l-6 -4l-24 -7l-8 -1l-24 1l-19 -1l-20 7l-16 1l-10 -4l-10 -14l-7 -4l-8 2l-13 12l-7 4l-28 1l-8 -2l-4 -2l-10 -17l-5 -3l-4 1l-12 16zM666 524l0 -2l4 1l-4 1zM299 540l-4 -2l-3 -4l0 -4l2 -3l5 -3l8 0l3 3l-1 7l-2 4l-4 2l-4 0zM1304 459l0 -1l1 1l-1 0zM472 452l0 16l1 4l8 8l6 19l6 2l2 -2l3 -8l-1 -39l4 -15l-2 -4l-2 -3l-4 -1l-16 4l-12 -2l-3 2l0 4l2 4l7 8l1 3zM493 437l0 6l-4 -1l0 -2l4 -3zM339 456l-3 28l3 3l15 6l3 -5l-1 -16l-4 -16l-2 -4l-3 -1l-4 0l-4 5zM344 484l-2 -4l0 -4l1 -3l4 -3l2 10l-1 4l-4 0zM477 593l1 16l7 9l20 10l11 9l8 2l5 -3l1 -8l-2 -4l-10 -12l-2 -7l-1 -20l-2 -4l-4 -4l-8 -3l-12 -3l-4 0l-4 2l-3 8l-1 12zM501 576l7 4l5 5l1 8l1 19l12 16l0 4l-3 3l-4 1l-4 -1l-11 -10l-16 -6l-4 -3l-5 -7l-1 -16l2 -12l2 -4l6 -3l12 2zM311 579l-3 8l3 3l4 -7l4 -1l8 4l6 7l0 4l-2 8l-9 11l2 3l7 -7l4 -7l1 -8l-1 -7l-12 -11l-8 -3l-4 3zM591 593l5 4l3 0l4 -1l3 -7l0 -4l-3 -3l-8 0l-4 3l-1 4l1 4zM599 584l4 1l1 4l-1 4l-4 2l-5 -2l-2 -4l2 -4l5 -1z"/>
<path fill="#AD6A5A" stroke="#AD6A5A" stroke-width="0.9" fill-rule="evenodd" d="M354 330l6 -2l3 -4l1 -16l2 -4l11 -12l-1 -3l-2 -2l-12 -1l-15 -4l-6 3l-4 7l1 8l10 8l0 4l-7 12l1 4l5 3l7 -1zM351 294l-4 0l-2 -2l2 -2l4 2l0 2zM327 308l0 2l1 -2l-1 0zM420 406l2 3l4 2l11 -1l4 -3l3 -5l0 -8l-3 -5l-14 -7l-5 -4l-10 -19l-6 -6l-4 -1l-4 3l-1 4l1 11l4 5l13 7l2 4l3 20zM412 370l-2 2l-4 0l-4 -4l-1 -5l1 -5l4 0l4 4l2 8zM423 390l3 -2l4 0l7 2l4 4l0 4l-4 7l-7 2l-5 -1l-3 -8l1 -8zM749 378l2 -4l0 -7l-6 -6l-4 -2l-4 0l-6 8l-7 11l1 4l5 3l7 -1l6 -2l6 -4zM741 442l-19 -4l-8 5l-4 6l-1 19l-4 8l-7 5l-12 5l-7 17l-17 7l-4 5l-1 8l2 7l3 4l12 5l4 4l7 15l1 8l-1 4l-3 2l-4 1l-12 -4l-4 1l-3 3l-17 16l-11 15l-17 12l-17 8l-5 4l-1 4l1 16l-1 3l-8 6l-7 2l-16 -1l-6 -3l-5 -4l-1 -3l1 -4l4 -8l11 -12l3 -8l-1 -4l-2 -3l-19 -12l-4 -8l-1 -8l0 -4l4 -2l16 2l15 -4l4 -3l3 -8l1 -8l-2 -4l-9 -8l-5 -8l1 -7l10 -16l0 -4l-4 -4l-10 -5l-4 -5l-2 -5l1 -16l-3 -3l-8 -1l-8 4l-4 8l-7 23l-12 12l-3 19l-6 7l-7 3l-8 -1l-9 -5l-6 -8l-1 -7l4 -9l4 -4l15 -7l1 -4l0 -43l2 -19l-2 -8l-4 -3l-4 0l-12 2l-16 -2l-4 1l-4 5l0 5l7 15l0 4l-1 16l2 16l-3 19l4 20l-1 3l-4 3l-4 1l-16 -3l-15 0l-8 2l-12 5l-4 -1l-2 -3l-4 -11l-2 -2l-8 0l-8 2l-3 4l-2 7l3 28l-1 8l-2 3l-7 5l-8 0l-6 -5l-3 -11l0 -28l-2 -9l-4 -4l-16 -3l-6 -3l-2 -5l-1 -19l-14 -11l-5 -8l0 -20l-1 -3l-7 -8l-8 -5l-4 -1l-3 1l-4 5l-10 47l0 11l2 13l5 5l1 -6l-5 -20l1 -11l8 -35l2 -4l3 -2l4 1l8 4l4 5l2 3l0 20l4 8l13 11l2 4l2 20l5 4l20 4l3 4l2 7l-1 24l2 12l4 7l9 3l9 -3l4 -4l2 -3l1 -8l-3 -28l2 -7l5 -4l8 0l4 4l4 11l4 3l4 0l16 -7l11 -1l12 1l16 5l12 -4l4 1l12 7l8 2l11 -1l6 -6l6 -22l8 -7l4 -6l4 -19l3 -8l5 -4l4 -1l6 1l2 4l0 12l2 7l3 4l13 8l1 4l-10 16l-1 7l4 8l12 10l0 10l-4 8l-8 4l-8 1l-8 -1l-7 -4l-5 -5l-4 0l-2 5l0 3l4 16l4 8l6 5l12 7l4 5l-1 6l-2 4l-10 12l-5 8l1 7l4 4l5 3l20 3l7 -2l6 -4l4 -4l1 -3l-1 -16l2 -4l4 -3l16 -6l16 -12l12 -16l16 -14l3 -3l4 -1l12 5l4 -1l6 -4l1 -3l1 -8l-5 -16l-7 -11l-16 -5l-2 -7l2 -8l8 -3l12 5l4 -1l6 -5l1 -4l-2 -12l1 -4l16 -11l8 -20l3 -4l3 -2l8 -1l19 4l12 -1l6 -4l18 -17l12 -16l4 -1l5 3l10 17l4 2l8 2l28 -1l7 -4l13 -12l8 -2l7 4l10 14l10 4l16 -1l20 -7l19 1l24 -1l8 1l24 7l6 4l10 8l3 1l20 1l6 5l5 16l5 2l4 -1l4 -3l12 -14l8 -2l4 2l4 4l13 20l2 3l-1 12l0 4l5 4l16 5l8 5l5 6l4 7l3 4l4 1l8 -1l7 -4l19 -19l2 -4l0 -8l-2 -12l-4 -15l2 -4l18 -8l6 -12l3 -1l8 -3l16 -1l8 2l19 6l16 0l17 4l11 -3l-11 -4l-13 -8l-20 4l-31 -4l-14 1l-10 2l-16 16l-20 9l-1 4l9 9l4 6l1 8l0 8l-2 4l-10 10l-7 9l-5 3l-4 0l-5 -3l-8 -11l-18 -12l-1 -4l4 -4l21 -4l3 -4l3 -11l-3 -8l-12 -15l-4 -1l-4 4l-4 12l-4 5l-4 2l-4 -1l-5 -2l-4 -4l-2 -8l5 -19l2 -12l-6 1l-6 -4l-12 -4l2 -5l-13 4l-16 12l-36 6l-31 -10l-5 -4l-5 -8l-6 -3l-8 0l-16 4l-8 1l-19 -6l-4 0l-4 3l-7 9l-5 4l-4 2l-8 0l-8 -4l-8 -12l-4 -3l-4 -2l-11 1l-16 6l-7 0l-3 -4l-4 -11l-2 -2l-4 -1l-9 3l-4 4l-7 10l-4 0l-15 -16l-4 -2l-4 1l-4 3l-8 12l-4 3l-4 0l-4 -5l-5 -10l-3 -4l-4 -2l-4 2l-4 8l-3 15l0 12l-2 4l-7 1zM497 456l0 39l-2 4l-2 2l-4 -1l-3 -5l-5 -15l-8 -8l-1 -4l0 -16l-1 -3l-7 -8l-2 -4l0 -4l3 -2l12 2l16 -4l4 1l2 3l2 4l-4 19zM362 426l4 0l3 -5l0 -8l-3 -2l-4 1l-2 5l2 9zM1346 422l3 0l4 -3l1 -2l0 -4l-5 -2l-3 0l-3 2l-1 4l4 5zM331 484l1 4l17 7l10 12l4 -4l-1 -15l1 -8l3 -5l12 -7l2 -8l-2 -2l-12 4l-4 0l-8 -14l-3 -2l-8 1l-4 2l-2 3l-2 20l-4 12zM357 476l0 12l-3 5l-15 -5l-3 -4l3 -28l4 -5l4 0l4 2l2 7l4 16zM673 472l3 -4l1 -4l0 -8l-3 -2l-4 -1l-4 1l-4 3l-1 3l0 8l5 4l7 0zM406 519l8 -1l4 -3l0 -4l-3 -4l-5 -1l-5 1l-3 4l-1 4l5 4zM307 538l3 -8l0 -3l-3 -3l-4 0l-9 3l-2 3l0 4l3 4l4 2l4 0l4 -2zM297 534l-1 -4l3 -2l4 -1l3 3l-3 6l-4 0l-2 -2zM479 593l1 16l5 7l8 5l12 4l11 10l4 1l4 -1l3 -3l0 -4l-12 -16l-1 -23l-4 -8l-5 -4l-8 -2l-12 0l-4 5l-2 13zM501 578l7 5l4 6l2 27l9 12l-1 4l-2 1l-4 -1l-9 -8l-18 -7l-7 -8l-1 -16l3 -12l5 -4l12 1zM588 589l3 7l8 3l4 -1l4 -5l1 -8l-2 -4l-3 -1l-8 0l-4 2l-2 3l-1 4zM599 581l4 1l3 3l0 4l-3 7l-4 1l-4 0l-4 -4l-1 -4l1 -4l8 -4zM315 583l-4 7l3 3l5 -6l4 1l5 5l1 8l-8 10l1 5l9 -11l2 -8l0 -4l-6 -7l-8 -4l-4 1z"/>
<path fill="#954535" stroke="#954535" stroke-width="0.9" fill-rule="evenodd" d="M361 331l6 -3l2 -4l1 -16l10 -12l2 -4l-1 -3l-2 -4l-5 -2l-23 -5l-8 0l-6 7l-6 12l-12 10l-1 5l4 4l9 4l7 11l5 3l8 1l10 -4zM341 324l7 -12l-1 -5l-9 -7l-1 -8l4 -7l6 -3l11 4l12 0l6 3l1 3l-11 12l-2 4l-1 16l-3 4l-9 3l-4 0l-5 -3l-1 -4zM327 310l-1 -2l2 0l-1 2zM686 385l16 -2l16 11l23 3l3 9l-2 11l-5 7l-23 3l-20 12l-8 4l-20 5l-5 4l-4 8l0 8l5 7l12 6l2 3l1 7l-3 8l-12 7l-4 5l-4 8l0 8l5 7l13 8l4 4l4 12l-1 8l-17 1l-22 22l-9 13l-21 14l-16 8l-4 4l-1 4l1 16l-3 4l-7 5l-16 0l-7 -2l-5 -4l-2 -3l1 -4l5 -8l10 -12l3 -8l0 -4l-5 -6l-16 -9l-4 -8l0 -5l4 -4l21 -3l10 -4l2 -3l4 -12l-1 -8l-12 -12l-3 -8l3 -7l9 -12l0 -4l-3 -4l-13 -8l-3 -4l-1 -3l2 -16l-3 -4l-4 -2l-8 -1l-7 3l-4 4l-9 29l-4 5l-9 5l-2 4l0 15l-5 9l-7 3l-8 -1l-6 -3l-5 -8l-1 -7l4 -8l8 -5l10 -3l2 -4l-2 -19l1 -28l2 -19l-2 -8l-3 -4l-8 -2l-12 1l-20 -1l-4 2l-3 4l0 8l5 19l-2 24l2 39l-1 8l-9 2l-31 -2l-4 3l-8 3l-3 -3l1 -3l6 -2l8 1l4 -11l0 -5l-4 -5l-8 -3l-5 1l-5 4l-6 9l-16 4l-4 4l-2 14l3 28l-4 7l-5 3l-8 1l-4 -3l-3 -4l-1 -12l0 -28l-3 -7l-4 -4l-18 -4l-4 -4l0 -8l2 -7l4 -4l8 1l12 4l7 12l4 3l4 -1l3 -4l0 -16l2 -7l3 -4l12 -10l8 -13l7 -8l1 -5l-4 -5l-4 0l-12 2l-2 0l-1 -4l1 -24l9 -19l0 -4l-3 -4l-4 2l-10 14l-10 8l-3 7l2 20l-4 4l-13 4l-4 4l-2 3l-2 20l-5 11l-4 4l-4 0l-8 -4l-8 -7l-2 -8l1 -16l-3 -7l-16 -12l-7 -2l-4 2l-4 8l-4 30l-4 13l-5 9l1 7l8 12l-2 -13l0 -8l8 -46l2 -4l4 -5l3 -1l4 1l8 5l7 8l1 3l0 20l5 8l14 11l1 19l2 5l6 3l16 3l4 4l2 9l0 28l3 11l6 5l8 0l7 -5l2 -3l1 -8l-3 -28l2 -7l3 -4l8 -2l8 0l2 2l4 11l2 3l4 1l12 -5l8 -2l15 0l16 3l4 -1l4 -3l1 -3l-4 -20l3 -19l-2 -16l1 -16l0 -4l-7 -15l0 -5l4 -5l4 -1l16 2l12 -2l4 0l4 3l2 8l-2 19l0 43l-1 4l-15 7l-4 4l-4 9l1 7l6 8l9 5l8 1l7 -3l6 -7l3 -19l12 -12l7 -23l4 -8l8 -4l8 1l3 3l-1 16l2 5l4 5l10 5l4 4l0 4l-10 16l-1 7l5 8l9 8l2 4l-1 8l-3 8l-4 3l-15 4l-16 -2l-4 2l0 4l1 8l4 8l19 12l2 3l1 4l-3 8l-11 12l-4 8l-1 4l1 3l5 4l6 3l16 1l7 -2l8 -6l1 -3l-1 -16l1 -4l5 -4l17 -8l17 -12l11 -15l17 -16l3 -3l4 -1l12 4l4 -1l3 -2l1 -4l-1 -8l-7 -15l-4 -4l-12 -5l-3 -4l-2 -7l1 -8l4 -5l17 -7l7 -17l12 -5l7 -5l4 -8l1 -19l6 -8l6 -3l19 4l7 -1l2 -4l0 -12l3 -15l4 -8l4 -2l4 2l12 19l4 0l4 -3l8 -12l4 -3l4 -1l4 2l15 16l4 0l7 -10l5 -5l8 -2l4 1l2 2l4 11l3 4l7 0l16 -6l11 -1l6 3l13 16l9 3l8 -3l5 -4l7 -9l4 -3l4 0l19 6l8 -1l16 -4l8 0l6 3l5 8l5 4l31 10l36 -6l16 -12l13 -4l4 -6l11 -8l3 -5l-8 2l-16 9l-23 9l-8 2l-8 -1l-8 -4l-12 -14l-5 11l-6 8l-6 3l-5 1l-4 -9l-3 -15l-22 0l-8 -3l-12 -6l-8 -1l-28 12l-6 4l-9 9l-4 2l-4 -1l-12 -18l-4 -3l-4 0l-15 4l-7 -1l-3 -16l-2 -3l-4 -3l-8 3l-15 11l-21 6l-4 -3l-5 -7l-5 -20l-5 -8l-4 -3l-8 -2l-16 5l-8 0l-9 -7l-10 -16l-5 -3l-4 1l-2 2l-9 15l-8 8l-4 0l-16 -4l-8 3l-6 9l-1 8l3 7zM741 359l4 2l6 6l1 3l-3 8l-4 3l-8 3l-7 1l-4 -2l-2 -5l7 -11l6 -8l4 0zM369 417l-3 9l-4 0l-2 -9l2 -5l4 -1l3 2l0 4zM365 476l-3 8l1 19l-5 4l-9 -12l-17 -7l-1 -4l4 -16l1 -12l3 -7l4 -2l8 -1l4 3l7 13l4 0l12 -4l2 2l-2 7l-13 9zM677 460l-1 8l-3 4l-7 0l-5 -4l0 -8l1 -3l4 -3l4 -1l4 1l3 2l0 4zM691 456l7 0l4 3l2 5l-2 9l-4 3l-4 1l-6 -1l-4 -4l2 -11l5 -5zM406 506l4 0l5 1l3 4l0 4l-4 3l-4 1l-4 0l-4 -3l0 -5l4 -5zM1132 433l-7 31l2 8l4 4l5 2l4 1l4 -2l4 -5l4 -12l4 -4l4 1l4 4l10 15l-1 12l-4 7l-21 4l-4 4l1 4l18 12l9 13l8 1l5 -3l7 -9l10 -10l2 -4l0 -8l-1 -8l-4 -6l-9 -9l1 -4l20 -9l16 -16l10 -2l14 -1l31 4l20 -4l13 8l11 4l24 -10l1 -2l-1 -1l-10 0l-6 2l-17 2l11 -5l29 -3l3 -4l15 -1l15 -4l2 -1l0 -6l-3 -6l-5 -1l-2 2l2 5l-5 1l-5 -9l-4 -3l6 -7l-11 1l-16 -2l-8 2l-4 4l-7 14l-8 2l-8 -4l-9 -12l-3 -2l-4 0l-3 2l-1 3l3 20l-2 4l-5 4l-12 3l-23 -3l-24 1l-8 3l-16 15l-12 4l-11 2l-8 -3l-12 -14l-16 -12l-2 -9l-4 3l-10 2zM1353 413l1 4l-5 5l-4 -1l-3 -4l1 -4l3 -2l3 0l4 2zM1192 488l3 2l4 6l0 8l-4 4l-3 0l-2 -1l-4 -8l0 -8l2 -1l4 -2zM408 382l4 4l2 4l3 20l5 3l8 1l7 -1l4 -2l4 -5l3 -8l-2 -8l-19 -12l-15 -23l-6 -6l-4 -1l-4 1l-3 6l-1 15l4 7l10 5zM420 374l6 8l15 7l3 5l0 8l-3 5l-4 3l-7 1l-8 -2l-3 -7l-1 -13l-3 -7l-13 -7l-4 -5l-1 -7l1 -8l4 -3l6 3l6 8l6 11zM296 530l1 4l2 2l4 0l3 -6l-3 -3l-4 1l-3 2zM623 570l-4 -4l-4 3l0 2l4 2l4 -3zM481 593l1 16l6 7l20 9l8 7l4 1l2 -1l1 -4l-9 -12l-1 -23l-5 -10l-7 -5l-12 -1l-5 4l-3 12zM505 582l3 4l3 7l0 23l-3 5l-11 -2l-8 -4l-5 -6l-2 -8l1 -12l4 -8l10 -2l8 3zM587 593l3 4l5 3l8 0l4 -3l1 -4l1 -12l-2 -2l-4 -1l-12 2l-2 1l-2 4l0 8zM606 581l2 4l0 4l-3 8l-6 2l-8 -3l-3 -7l1 -4l2 -3l8 -2l7 1zM314 593l3 4l2 -2l4 2l0 4l-3 4l1 6l8 -10l-1 -8l-5 -5l-4 -1l-5 6z"/>
<path fill="#7E2010" stroke="#7E2010" stroke-width="0.9" fill-rule="evenodd" d="M329 324l8 11l6 3l11 -1l14 -6l4 -3l1 -16l1 -4l10 -12l1 -7l-2 -4l-9 -6l-23 -5l-8 1l-4 2l-9 15l-13 12l-2 4l0 4l2 4l12 8zM370 308l-1 16l-3 4l-8 4l-11 3l-8 -3l-8 -12l-8 -4l-4 -3l-1 -5l3 -4l10 -7l8 -16l4 -3l8 0l23 5l5 2l2 4l1 3l-2 4l-10 12zM1197 394l10 -4l2 -8l-12 3l0 9zM686 335l-2 16l-8 23l0 16l2 9l4 2l4 0l12 -4l4 0l28 8l4 3l0 4l-4 4l-4 1l-16 2l-8 3l-36 20l-7 7l-4 9l-1 10l5 7l10 9l3 4l0 3l-5 8l-8 7l-4 5l-3 8l0 8l3 7l16 12l3 8l-1 4l-14 8l-9 11l-11 10l-6 10l-6 6l-36 21l-4 8l1 16l-2 3l-6 4l-8 2l-8 -1l-10 -5l-2 -3l1 -4l5 -8l11 -12l3 -8l0 -4l-4 -5l-16 -10l-5 -8l1 -4l4 -3l26 -5l5 -4l3 -15l0 -8l-2 -4l-10 -8l-3 -8l4 -7l8 -11l1 -5l-4 -6l-11 -6l-4 -4l-1 -3l2 -16l-1 -4l-5 -4l-8 -1l-8 1l-8 6l-3 6l-4 19l-5 8l-8 3l-4 0l-3 -3l-4 -15l3 -55l-3 -8l-6 -4l-6 -1l-32 0l-6 1l-3 4l-1 12l4 19l-2 32l2 27l-2 8l-8 3l-8 0l-7 -2l-4 -5l-2 -12l-3 -4l-11 -4l-8 2l-11 14l-15 4l-4 4l-1 19l3 20l-2 8l-2 2l-4 3l-8 0l-5 -5l-2 -8l-1 -39l-4 -4l-19 -5l-3 -3l-1 -4l2 -8l2 -2l4 -2l8 1l8 4l7 14l8 1l4 -3l2 -5l0 -16l2 -6l12 -10l11 -15l8 -8l2 -3l1 -4l-2 -8l-4 -5l-12 -4l-3 -3l-2 -4l2 -11l9 -24l2 -3l8 0l8 6l3 21l5 5l8 2l15 -2l4 -2l5 -11l1 -8l-2 -4l-3 -4l-16 -9l-14 -22l-10 -9l-4 -2l-4 1l-4 4l-4 29l-15 8l-9 12l-13 12l-1 3l1 20l-3 4l-11 5l-6 7l-2 19l-3 8l-3 4l-6 3l-8 -3l-4 -3l-4 -9l1 -16l-2 -7l-19 -15l-4 -2l-7 -1l-6 2l-2 4l0 27l-4 15l-4 6l-3 1l2 11l5 -9l4 -13l5 -34l3 -4l4 -2l7 2l16 12l3 7l-1 16l2 8l8 7l8 4l4 0l4 -4l5 -11l2 -20l2 -3l4 -4l13 -4l4 -4l-2 -20l3 -7l10 -8l10 -14l4 -2l3 4l0 4l-9 19l-1 24l1 4l2 0l12 -2l4 0l4 5l-1 5l-7 8l-8 13l-12 10l-3 4l-2 7l0 16l-3 4l-4 1l-4 -3l-7 -12l-12 -4l-8 -1l-4 4l-2 7l0 8l4 4l18 4l4 4l3 7l0 28l1 12l3 4l4 3l8 -1l5 -3l4 -7l-3 -28l2 -14l4 -4l16 -4l6 -9l5 -4l5 -1l8 3l4 5l0 5l-4 11l-8 -1l-6 2l-1 3l3 3l8 -3l4 -3l31 2l9 -2l1 -8l-2 -39l2 -24l-5 -19l0 -8l3 -4l4 -2l20 1l12 -1l8 2l3 4l2 8l-2 19l-1 28l2 19l-2 4l-14 5l-6 7l-2 8l1 3l3 6l4 3l8 3l8 -1l4 -3l4 -8l0 -15l2 -4l9 -5l4 -5l8 -27l4 -5l4 -3l8 -1l8 3l3 4l-2 16l1 3l3 4l13 8l3 4l0 4l-9 12l-3 7l3 8l12 12l1 8l-4 12l-2 3l-7 4l-24 3l-2 1l-2 4l2 8l2 4l16 9l5 6l0 4l-3 8l-10 12l-5 8l-1 4l2 3l8 5l16 2l7 -3l5 -4l2 -7l-1 -12l1 -4l4 -4l16 -8l21 -14l9 -13l22 -22l17 -1l1 -8l-4 -12l-4 -4l-13 -8l-5 -7l0 -8l4 -8l4 -5l12 -7l3 -8l-1 -7l-2 -3l-12 -6l-5 -7l0 -8l4 -8l5 -4l20 -5l8 -4l20 -12l23 -3l5 -7l2 -11l-3 -9l-23 -3l-16 -11l-16 2l-3 -7l1 -8l5 -7l5 -4l8 -1l12 4l4 0l8 -8l9 -15l2 -2l4 -1l5 3l10 16l9 7l8 0l16 -5l8 2l4 3l5 8l5 20l5 7l4 3l21 -6l15 -11l8 -3l4 3l2 3l3 16l7 1l15 -4l4 0l4 3l12 18l4 1l4 -2l9 -9l6 -4l27 -12l9 1l12 6l8 3l22 0l-1 -9l-9 1l-8 -1l-16 -9l-8 -1l-19 3l-28 13l-8 0l-4 -3l-8 -14l-17 -6l-1 -4l0 -4l6 -15l-1 -4l-3 -2l-7 -3l-24 0l-16 -3l-8 1l-3 3l-2 4l1 4l4 4l11 8l3 3l-1 4l-9 11l-8 2l-6 -1l-6 -4l-4 -6l-8 -25l0 -16l-3 -7l-4 -2l-4 0l-7 2l-13 13l-8 2l-4 -1l-12 -11l-6 -3l-6 -2l-11 3l-16 12l-8 0l-16 -7l-4 1zM426 377l20 13l2 8l-2 8l-5 5l-4 2l-7 1l-8 -1l-4 -3l-2 -4l-2 -16l-2 -4l-16 -12l-2 -7l0 -8l4 -10l4 -1l8 4l8 11l8 14zM491 538l-7 -8l0 -3l2 -8l4 -4l7 -3l8 -1l3 2l4 10l-2 11l-3 4l-6 3l-10 -3zM1045 405l11 12l5 4l8 3l8 0l28 -11l15 -9l8 -2l1 -8l-9 1l-19 7l-4 -2l-5 -10l-3 -2l-4 -2l-8 -1l-9 5l-7 7l-4 0l-12 -2l0 10zM1146 429l2 8l16 12l12 14l4 3l8 0l20 -6l5 -4l6 -8l8 -5l24 -2l27 3l12 -3l5 -4l2 -4l-3 -20l1 -3l3 -2l4 0l3 2l9 12l8 4l4 0l4 -2l2 -3l5 -11l5 -5l7 -1l16 2l11 -1l2 -2l-5 -5l-31 3l-8 5l-6 11l-6 3l-6 -3l-10 -12l-8 -2l-5 3l-3 4l2 19l-1 4l-5 5l-8 2l-27 -2l-24 2l-8 3l-12 13l-8 4l-7 1l-8 0l-8 -5l-19 -23l-2 -10l-9 6zM704 464l-2 -5l-4 -3l-4 0l-4 1l-5 7l-1 8l2 3l4 1l8 0l4 -4l2 -8zM1197 491l-5 -3l-4 2l-2 1l0 4l1 8l5 5l3 0l4 -4l0 -8l-2 -5zM607 575l-20 3l-2 3l0 8l2 8l8 5l8 0l4 -2l2 -3l3 -16l3 -3l9 -5l2 -3l-1 -4l-2 -2l-4 -1l-4 2l-8 10zM615 570l4 -4l4 4l-4 3l-4 -2l0 -1zM609 581l-2 15l-4 4l-8 0l-5 -3l-3 -4l0 -8l2 -4l2 -1l8 -2l8 1l2 2zM482 593l1 12l2 5l4 5l8 4l12 1l2 -4l0 -19l-1 -8l-2 -4l-7 -5l-8 -1l-4 1l-4 4l-3 9zM505 584l4 9l1 16l-3 7l-6 2l-8 -2l-7 -7l-2 -8l0 -8l3 -8l6 -4l8 1l4 2zM320 605l3 -4l0 -4l-4 -2l-2 2l3 8z"/>
<path fill="#FFB0E0" stroke="#FFB0E0" stroke-width="0.9" fill-rule="evenodd" d="M327 292l-13 12l-2 4l2 8l13 10l10 13l6 2l8 -1l16 -5l8 -4l3 -3l-1 -16l9 -13l1 -10l-4 -8l-5 -3l-24 -7l-7 -1l-8 3l-4 4l-8 15zM378 281l5 4l2 7l-3 7l-8 9l-1 4l-1 16l-4 3l-17 7l-8 0l-4 -2l-10 -12l-10 -7l-4 -5l0 -4l2 -4l10 -8l8 -15l8 -6l8 -1l27 7zM611 315l4 3l8 1l4 0l4 -4l2 -7l0 -16l-2 -7l-4 -4l-12 0l-5 4l-3 19l4 11zM1128 385l-23 0l-16 -6l-8 -1l-8 2l-16 6l-14 1l2 8l12 2l4 0l7 -7l7 -4l10 0l7 4l5 10l4 2l19 -7l9 -1l-1 -9zM1016 384l-14 0l-12 -7l-8 -1l-23 5l-20 2l-4 -5l-2 -8l-2 -2l-4 -2l-16 -3l-4 -4l-3 -12l-5 -5l-8 -2l-27 0l-24 -6l-16 5l-4 -1l-11 -14l-8 -4l-8 0l-16 6l-8 1l-28 -7l-7 1l-20 5l-28 -3l-8 2l-3 6l2 20l-6 19l-2 24l-5 16l2 4l9 7l0 4l-4 8l-12 11l-4 5l-3 7l-1 8l4 11l11 12l1 4l-1 4l-11 11l-3 5l-2 8l1 11l4 8l11 10l2 2l0 4l-9 9l-12 14l-9 8l-7 12l-4 4l-16 6l-4 5l-20 12l-2 4l1 20l-3 3l-3 2l-8 2l-12 -2l-3 -2l-2 -3l2 -8l15 -16l2 -4l1 -8l-2 -3l-4 -4l-13 -8l-4 -4l-2 -4l2 -3l12 -4l16 -1l2 4l3 12l3 4l7 3l12 0l3 -3l5 -19l12 -9l1 -3l-1 -6l-4 -3l-4 -1l-4 2l-8 10l-4 2l-12 1l-4 -2l-1 -3l3 -20l-2 -4l-11 -10l-2 -6l2 -5l9 -10l2 -8l-4 -6l-11 -7l-4 -5l-1 -5l3 -12l-1 -4l-5 -5l-12 -2l-8 0l-5 3l-6 8l-4 19l-4 8l-5 4l-4 0l-4 -1l-3 -7l-2 -7l3 -51l-3 -12l-3 -4l-7 -3l-36 -1l-8 -2l-1 -5l2 -12l-1 -8l-4 -4l-19 -12l-14 -23l-10 -9l-8 -1l-4 2l-2 4l-3 20l-3 7l-12 8l-12 16l-11 10l-2 5l1 12l-1 8l-5 4l-9 5l-4 4l-2 6l-1 16l-1 5l-4 5l-4 2l-4 -1l-4 -2l-5 -5l-1 -8l1 -15l-4 -8l-23 -17l-23 -5l-11 0l3 17l4 -1l4 1l4 4l1 9l0 11l-2 8l-3 5l-4 1l-3 -1l4 9l3 -1l4 -6l4 -15l0 -27l4 -5l8 -1l11 6l15 12l2 7l-1 16l4 9l8 5l8 0l4 -4l3 -6l3 -23l6 -7l11 -5l3 -4l-1 -20l1 -3l13 -12l9 -12l15 -8l4 -29l4 -4l4 -1l4 2l10 9l14 22l16 9l3 4l2 4l-1 8l-5 11l-4 2l-15 2l-8 -2l-5 -5l-3 -21l-8 -6l-8 0l-2 3l-9 24l-2 11l2 4l3 3l12 4l4 5l2 8l-1 4l-2 3l-8 8l-11 15l-12 10l-2 6l0 16l-2 5l-4 3l-8 -1l-7 -14l-8 -4l-8 -1l-4 2l-2 2l-2 8l1 4l3 3l19 5l4 4l1 39l2 8l5 5l8 0l4 -3l2 -2l2 -8l-3 -20l1 -19l4 -4l15 -4l11 -14l8 -2l11 4l3 4l2 12l4 5l7 2l8 0l8 -3l2 -8l-2 -27l2 -32l-4 -19l1 -12l3 -4l6 -1l32 0l8 2l4 3l3 8l-3 55l4 15l3 3l4 0l8 -3l5 -8l4 -19l3 -6l8 -6l8 -1l8 1l5 4l1 4l-2 16l1 3l4 4l11 6l4 6l-1 5l-8 11l-4 7l3 8l10 8l2 4l0 8l-3 15l-5 4l-26 5l-4 3l-1 4l5 8l16 10l4 5l0 4l-3 8l-14 16l-3 8l2 3l6 4l8 1l8 0l7 -3l5 -5l-1 -16l4 -8l36 -21l6 -6l6 -10l11 -10l9 -11l14 -8l1 -4l-3 -8l-16 -12l-3 -7l0 -8l3 -8l4 -5l8 -7l5 -8l0 -3l-3 -4l-10 -9l-5 -7l1 -10l4 -9l7 -7l36 -20l8 -3l16 -2l4 -1l4 -4l0 -4l-4 -3l-28 -8l-4 0l-12 4l-4 0l-4 -2l-2 -9l0 -16l8 -23l2 -16l4 -1l16 7l8 0l16 -12l11 -3l6 2l6 3l12 11l4 1l8 -2l13 -13l7 -2l4 0l4 2l3 7l0 16l10 27l6 7l8 2l5 -1l6 -4l6 -8l1 -4l-3 -3l-11 -8l-4 -4l-1 -4l2 -4l3 -3l8 -1l16 3l28 1l6 4l1 4l-6 15l0 4l1 4l17 6l8 14l4 3l4 1l32 -14l15 -3l12 1l16 9l8 1l9 -1l-1 -4l2 -7zM408 394l2 19l4 5l8 2l19 -1l6 2l4 35l-1 32l2 23l-2 8l-5 4l-8 0l-4 -2l-2 -2l-7 -16l-4 -4l-6 -2l-12 1l-4 3l-6 10l-6 4l-8 1l-6 -1l-2 -16l3 -11l13 -12l8 -12l12 -10l2 -5l-1 -12l-3 -8l-14 -7l-3 -5l0 -4l1 -7l6 -14l4 -4l4 0l4 2l2 4zM348 507l1 4l-1 4l-5 1l-12 -2l-4 -3l-2 -4l2 -6l4 -3l4 -1l8 3l5 7zM370 527l0 19l2 20l-1 4l-4 3l-9 1l-4 -4l-2 -8l0 -35l1 -8l13 -1l2 1l2 8zM624 573l-9 5l-3 3l-3 16l-3 4l-3 1l-8 0l-8 -5l-3 -12l1 -4l2 -3l20 -3l8 -10l4 -2l4 1l2 2l1 4l-2 3zM1155 423l2 10l19 23l8 5l11 0l12 -5l12 -13l8 -3l24 -2l27 2l8 -2l5 -5l1 -4l-2 -16l0 -4l4 -4l8 -2l4 2l10 12l6 3l6 -3l6 -11l4 -4l8 -2l28 -2l2 -6l-11 0l-31 6l-4 4l-4 9l-4 3l-4 -1l-8 -11l-8 -3l-8 2l-7 5l-1 7l2 16l-2 4l-4 3l-8 1l-23 -2l-28 2l-8 4l-12 14l-8 2l-7 0l-9 -5l-15 -23l-2 -9l-7 3zM1196 400l11 -2l7 -4l2 -4l1 -8l-8 0l-2 8l-10 4l2 3l-3 3zM484 523l0 7l2 4l7 5l8 2l4 -1l5 -6l2 -11l-4 -10l-7 -2l-8 2l-4 3l-5 7zM505 515l3 4l2 4l0 7l-2 4l-3 4l-4 1l-8 -1l-4 -4l-3 -4l1 -7l6 -7l8 -2l4 1zM489 583l-4 6l-1 4l0 8l2 8l7 7l8 2l4 0l3 -4l2 -5l0 -12l-2 -8l-3 -5l-4 -2l-8 -1l-4 2zM497 583l8 4l3 10l0 8l-2 7l-1 3l-4 1l-10 -4l-3 -3l-2 -8l0 -8l3 -6l4 -3l4 -1z"/>
<path fill="#FF80E0" stroke="#FF80E0" stroke-width="0.9" fill-rule="evenodd" d="M734 262l3 -5l-1 -4l-2 -2l-4 -1l-4 2l-2 5l2 4l4 2l4 -1zM587 292l-1 55l-1 4l-9 18l-1 9l2 4l3 3l3 -2l8 -20l4 -4l4 -2l8 -1l8 2l6 5l10 20l4 2l4 0l4 -2l2 -5l2 -8l-3 -23l4 -23l-1 -24l1 -19l2 -12l5 -8l1 -4l-1 -2l-4 -1l-12 2l-16 0l-12 5l-17 4l-5 4l-2 4l-1 8l1 11zM627 319l-8 0l-7 -3l-4 -8l1 -19l2 -6l4 -2l12 0l4 3l2 5l1 11l-2 12l-2 4l-3 3zM311 304l-1 8l1 4l4 5l9 7l7 12l4 3l4 1l12 -1l25 -8l8 -4l0 -3l-2 -16l8 -12l0 -11l-4 -9l-8 -6l-24 -7l-11 0l-8 5l-9 17l-15 15zM382 280l5 9l0 7l-10 16l1 16l-3 3l-8 4l-16 5l-12 0l-4 -2l-8 -12l-12 -9l-3 -5l2 -8l12 -12l9 -15l8 -6l11 0l20 5l8 4zM1127 375l-24 -1l-1 2l-4 -1l0 -1l-21 -1l-24 6l-12 -1l2 9l2 0l12 -1l16 -6l8 -2l8 1l16 6l23 0l-1 -10zM1023 357l-9 -2l-32 2l-4 2l-8 11l-7 4l-8 1l-4 -1l-4 -4l-2 -11l-2 -2l-20 0l-6 -2l-3 -4l-1 -4l2 -12l-4 -2l-47 2l-10 -4l-14 -7l-16 0l-12 -7l-11 -3l-32 3l-28 -3l-27 3l-28 -2l-12 2l-4 3l-3 4l0 7l4 12l1 8l-7 19l-1 20l-7 16l1 7l6 12l0 4l-10 16l-5 15l2 13l11 15l0 3l-9 12l-4 8l-1 8l1 11l3 8l11 12l-1 4l-13 19l-14 12l-6 12l-6 4l-4 1l-5 -1l0 -12l1 -4l4 -4l8 -4l3 -4l0 -7l-3 -6l-4 -2l-4 0l-7 4l-9 10l-8 1l-4 -1l-2 -2l2 -20l-1 -4l-10 -9l-4 -7l4 -7l7 -8l2 -8l-3 -8l-13 -8l-2 -3l3 -16l-1 -4l-2 -4l-7 -4l-8 -1l-8 -1l-8 3l-8 8l-5 22l-3 6l-4 3l-5 -1l-4 -4l-2 -7l3 -51l-1 -8l-3 -7l-3 -4l-8 -3l-12 -2l-20 1l-8 -3l-1 -5l2 -12l-3 -8l-22 -12l-14 -23l-7 -8l-6 -4l-8 -2l-4 0l-3 2l-4 24l-2 7l-15 12l-8 12l-14 12l-2 7l1 16l-3 4l-13 7l-3 5l-2 23l-3 6l-4 2l-4 0l-4 -2l-3 -6l1 -19l-3 -8l-23 -19l-14 -9l-3 -3l-1 -4l2 -16l-3 -4l-8 -3l-12 1l-4 14l5 21l11 0l20 3l7 4l19 15l4 8l-1 15l1 8l5 5l8 3l4 -2l4 -6l2 -20l3 -7l17 -12l1 -8l-1 -12l2 -5l11 -10l12 -16l12 -8l3 -7l3 -20l2 -4l4 -2l4 0l8 4l4 4l16 25l19 12l4 4l1 8l-2 12l1 5l8 2l36 1l7 3l3 4l3 12l-3 51l2 7l3 7l4 1l4 0l5 -4l4 -8l4 -19l3 -6l4 -3l12 -2l8 1l5 2l4 4l1 4l-3 12l1 5l4 5l11 7l4 6l-2 8l-9 10l-2 5l2 6l11 10l2 4l-3 20l1 3l4 2l12 -1l4 -2l8 -10l4 -2l6 2l3 4l0 4l-1 4l-12 8l-5 19l-3 3l-12 0l-7 -3l-3 -4l-3 -12l-2 -4l-16 1l-12 4l-2 3l2 4l4 4l13 8l4 4l2 3l-1 8l-2 4l-15 16l-2 8l2 3l3 2l12 2l8 -2l3 -2l3 -3l-1 -20l2 -4l20 -12l4 -5l16 -6l4 -4l7 -12l9 -8l12 -14l9 -9l0 -4l-2 -2l-11 -10l-4 -8l-1 -11l2 -8l3 -5l11 -11l1 -4l-1 -4l-11 -12l-4 -11l1 -8l3 -7l4 -5l12 -11l4 -8l0 -4l-9 -7l-2 -4l5 -16l2 -24l6 -19l-2 -20l3 -6l8 -2l28 3l20 -5l7 -1l28 7l8 -1l16 -6l8 0l8 4l11 14l4 1l16 -5l24 6l31 1l6 2l2 3l4 13l4 4l16 3l4 2l2 2l2 8l4 5l20 -2l23 -5l8 1l12 7l14 0l2 -14l5 -13zM591 605l12 4l-1 3l-16 8l-5 4l3 16l-1 8l-3 3l-4 2l-8 0l-8 -2l-3 -3l0 -4l7 -9l14 -11l1 -8l-3 -9l-17 -10l-4 -4l-1 -4l6 -4l16 -2l4 2l4 16l7 4zM1217 382l-1 8l-5 6l-8 3l-7 1l-7 5l18 0l13 -3l3 -5l1 -14l-7 -1zM1162 421l2 8l15 23l9 5l7 0l8 -2l12 -14l8 -4l28 -2l23 2l8 -1l4 -3l2 -4l-2 -16l1 -7l7 -5l8 -2l8 3l8 11l4 1l4 -3l4 -9l4 -4l31 -6l11 0l4 -6l-11 -3l-4 0l-12 7l-11 2l-8 -1l-12 -7l-4 1l-9 9l-19 4l-6 4l-2 8l2 15l0 4l-5 4l-9 1l-19 -3l-36 3l-4 3l-8 13l-8 4l-7 -1l-6 -4l-11 -24l-1 -8l-8 4zM390 421l12 6l4 6l2 16l-2 5l-12 10l-8 12l-13 12l-3 11l2 16l6 1l8 -1l6 -4l6 -10l4 -3l12 -1l6 2l4 4l7 16l2 2l4 2l9 0l4 -4l2 -8l-2 -23l1 -32l-4 -35l-6 -2l-19 1l-8 -2l-4 -5l-2 -19l-2 -4l-4 -2l-4 0l-5 6l-6 19l3 8zM393 410l5 -15l4 -1l3 8l-1 8l-2 6l-4 1l-4 -3l-1 -4zM446 433l1 31l-1 24l3 19l-2 8l-2 3l-4 2l-4 -1l-4 -3l-7 -16l-4 -3l-8 -3l-8 0l-8 4l-8 11l-4 3l-8 2l-4 -2l-1 -5l-1 -8l2 -9l12 -10l12 -15l12 -9l2 -4l-1 -23l3 -4l12 -3l11 0l6 3l3 8zM252 474l4 -1l4 -7l2 -14l-2 -12l-4 -4l-4 -1l-4 1l-2 14l-4 11l7 12l3 1zM252 464l-5 -4l-2 -8l3 -4l4 -2l4 1l1 5l-1 10l-4 2zM335 515l12 0l1 0l1 -4l-3 -8l-3 -3l-8 -3l-4 1l-4 3l-2 6l2 4l8 4zM343 513l-8 0l-5 -2l-2 -4l1 -4l6 -3l8 2l3 5l0 4l-3 2zM486 530l3 5l5 3l7 1l4 -1l3 -4l2 -4l0 -7l-2 -4l-3 -4l-4 -1l-8 2l-6 7l-1 7zM508 523l0 7l-3 6l-4 1l-8 -1l-4 -6l0 -7l3 -4l5 -2l8 1l3 5zM352 523l0 39l2 8l4 4l8 0l5 -4l1 -8l-2 -16l-1 -23l-1 -4l-6 -1l-9 1l-1 4zM366 523l2 7l0 16l3 20l-2 4l-7 3l-4 -1l-4 -6l-1 -36l1 -7l4 -3l4 0l4 3zM487 589l-1 12l2 8l3 3l6 3l4 1l4 -1l1 -3l2 -7l0 -8l-2 -8l-4 -4l-5 -2l-7 2l-3 4zM497 585l4 1l3 3l3 8l-1 12l-1 2l-4 3l-8 -3l-4 -5l-2 -5l1 -8l2 -4l3 -3l4 -1z"/>
<path fill="#FF55E8" stroke="#FF55E8" stroke-width="0.9" fill-rule="evenodd" d="M575 285l2 58l-7 31l1 8l2 8l7 4l3 -2l4 -4l8 -18l4 -3l4 -2l8 1l5 4l6 16l3 4l6 3l16 1l3 4l3 15l3 12l0 8l-8 16l-1 15l2 12l7 12l1 3l-9 16l-2 16l2 15l9 12l0 4l-10 19l-14 8l-3 12l-7 6l-4 1l-4 -3l0 -8l4 -5l13 -7l1 -7l-2 -8l-4 -5l-8 -1l-8 4l-8 10l-4 1l-6 -1l-2 -4l2 -16l0 -4l-3 -4l-10 -8l-1 -4l1 -3l11 -12l1 -8l-2 -8l-15 -11l-1 -4l4 -12l-2 -8l-5 -4l-11 -3l-12 -1l-8 2l-4 2l-6 8l-6 25l-4 4l-4 0l-2 -2l-2 -4l-1 -7l2 -24l1 -31l-3 -8l-3 -4l-20 -11l0 -4l5 -8l1 -4l-3 -4l-6 -1l-8 0l-8 4l-4 -1l-9 -6l-15 -5l-8 -6l-8 -16l-9 -12l-6 -5l-14 -7l-3 -3l-2 -8l3 -16l-1 -15l-3 -9l-8 -7l-24 -10l-11 -1l-8 2l-8 7l-8 18l-12 9l-3 6l-1 8l1 4l3 5l12 10l5 16l7 1l8 -1l35 -8l4 1l3 3l1 6l-1 14l-3 7l-12 8l-12 16l-11 8l-4 4l-1 4l2 15l-1 4l-4 4l-12 4l-4 4l1 23l-1 5l-3 3l-5 1l-4 -5l0 -8l3 -11l0 -8l-4 -4l-14 -8l-21 -19l-1 -8l2 -16l-3 -8l-5 -2l-22 -1l-2 9l12 -1l8 3l3 4l-2 16l1 4l3 3l14 9l23 19l3 8l-1 19l3 6l4 2l4 0l4 -2l3 -6l2 -23l3 -5l13 -7l3 -4l-1 -16l2 -7l14 -12l8 -12l15 -12l2 -7l4 -24l3 -2l4 0l12 4l9 10l14 23l22 12l3 8l-2 12l1 5l8 3l20 -1l12 2l8 3l3 4l3 7l1 8l-3 51l2 7l4 4l5 1l4 -3l3 -6l5 -22l8 -8l8 -3l8 1l8 1l7 4l2 4l1 4l-3 16l2 3l13 8l3 8l-2 8l-7 8l-4 7l4 7l10 9l1 4l-2 20l2 2l4 1l8 -1l9 -10l7 -4l4 0l4 2l3 6l0 7l-3 4l-8 4l-4 4l-1 4l0 12l5 1l4 -1l6 -4l6 -12l14 -12l13 -19l1 -4l-11 -12l-3 -8l-1 -11l1 -8l4 -8l9 -12l0 -3l-10 -12l-3 -12l3 -15l12 -20l0 -4l-6 -12l-1 -7l7 -16l1 -20l7 -19l-6 -23l1 -4l3 -5l8 -3l8 -1l28 2l27 -3l28 3l32 -3l11 3l12 7l16 0l14 7l10 4l47 -2l4 2l-2 12l1 4l3 4l6 2l20 0l2 2l2 11l4 4l4 1l8 -1l7 -4l8 -11l4 -2l32 -2l9 2l6 -11l-12 0l-3 2l1 -2l-84 0l-4 -3l-4 -16l-4 -2l-4 -1l-16 3l-8 -1l-3 -4l-5 -14l-4 -4l-15 -6l-9 -6l-8 -11l-7 -24l-4 -4l-4 -1l-8 1l-4 4l-8 14l-3 4l-4 1l-8 -1l-8 -6l-8 -3l-8 2l-12 8l-4 1l-4 -1l-4 -4l-5 -22l-4 -4l-6 -3l-12 2l-6 5l-6 11l-4 3l-12 2l-20 -2l-4 -3l-6 -11l-5 -5l-8 -1l-12 2l-16 0l-8 2l-12 5l-20 2l-3 3l-7 11l2 16zM724 257l0 -4l6 -3l4 1l2 2l1 4l-3 5l-4 1l-4 -2l-2 -4zM648 292l0 32l-4 23l3 23l-2 8l-2 4l-4 3l-4 0l-4 -2l-7 -16l-5 -7l-8 -3l-8 -1l-8 2l-4 4l-7 20l-4 3l-4 -5l-1 -6l2 -7l8 -16l1 -4l0 -23l1 -24l-1 -23l3 -8l5 -4l17 -4l12 -5l16 0l12 -2l4 1l1 2l-7 16l-1 19zM391 292l-1 8l-8 12l2 16l0 3l-8 4l-25 8l-8 1l-8 -1l-4 -3l-7 -12l-10 -8l-4 -8l1 -8l2 -4l10 -8l12 -20l8 -5l8 -1l7 1l24 9l4 4l3 5l2 7zM659 338l5 5l2 8l-4 8l-3 2l-4 -2l-3 -8l0 -4l3 -7l4 -2zM475 402l0 4l-6 3l-4 0l-4 -3l0 -4l4 -8l4 0l6 8zM1041 378l12 1l24 -6l21 1l0 -4l4 -3l-21 0l-8 -1l-4 -3l-4 -12l-3 -4l-5 -3l-6 0l-6 7l0 8l-4 6l0 13zM1103 374l17 0l7 1l-2 -7l-3 -2l-11 1l-4 1l-4 6zM1224 383l-1 15l-4 4l-12 3l-18 0l-7 6l-12 6l2 10l10 22l5 3l5 2l8 -2l5 -3l6 -12l8 -4l32 -2l19 3l9 -1l5 -4l0 -4l-2 -15l2 -8l6 -4l19 -4l9 -9l4 -1l12 7l8 1l11 -2l12 -7l4 0l11 3l5 -6l-8 -5l-12 -2l-4 2l-12 11l-7 2l-8 -3l-12 -9l-4 -1l-4 3l-9 12l-7 2l-16 3l-5 3l-1 8l3 11l0 8l-5 4l-23 -3l-24 -1l-4 -2l-1 -2l21 -2l6 -6l2 -3l-1 -4l-3 -4l-12 -9l-3 -8l-8 -2zM1192 447l-3 -2l0 -4l3 -3l3 0l4 3l0 4l-4 3l-3 -1zM402 394l-4 1l-5 11l0 7l5 4l4 -1l2 -6l1 -8l-3 -8zM395 468l-9 12l-8 6l-4 5l-2 12l2 9l4 2l8 -2l4 -3l8 -11l8 -4l8 0l8 3l4 3l7 16l4 3l4 1l4 -2l2 -3l2 -8l-3 -19l1 -24l-1 -27l-3 -12l-2 -2l-8 -1l-19 3l-3 4l1 23l-2 4l-15 12zM443 437l-1 51l3 19l-1 4l-3 3l-4 -1l-7 -14l-4 -4l-12 -4l-8 0l-8 2l-9 14l-6 4l-5 0l-3 -4l-1 -8l4 -9l12 -9l9 -13l18 -8l0 -8l-2 -15l3 -8l8 -4l7 0l4 1l4 3l2 8zM256 447l-4 -1l-4 2l-3 4l2 8l5 4l4 -4l1 -8l-1 -5zM335 500l-6 3l-1 4l2 4l9 3l4 -1l3 -2l0 -4l-2 -4l-5 -3l-4 0zM331 507l4 -4l4 0l4 4l-2 4l-2 1l-5 -1l-3 -4zM505 536l3 -6l1 -3l-4 -8l-4 -3l-8 3l-4 5l0 7l2 3l6 3l4 0l4 -1zM501 536l-7 -2l-3 -4l-1 -3l2 -4l5 -4l4 0l4 2l2 6l-2 6l-4 3zM353 530l1 32l2 8l2 2l4 1l4 -1l4 -5l1 -5l-3 -16l0 -19l-2 -4l-4 -3l-4 0l-4 3l-1 7zM366 527l3 39l-3 4l-4 1l-4 -1l-3 -8l-1 -32l4 -7l4 0l4 4zM560 597l16 10l3 5l0 8l-1 4l-18 16l-3 8l3 3l4 2l12 0l4 -2l3 -3l1 -4l-3 -20l5 -4l16 -8l1 -3l-16 -6l-3 -2l-4 -16l-4 -2l-12 1l-8 3l-2 2l1 4l5 4zM579 593l1 5l-2 3l-2 0l-13 -4l-4 -4l-1 -4l6 -3l8 -1l4 1l3 7zM595 612l-8 3l-3 -3l-1 -3l9 0l3 3zM580 633l2 11l-2 4l-4 3l-10 0l-6 -3l0 -4l2 -4l10 -8l4 -1l4 2zM488 593l-1 8l3 8l7 4l4 1l2 -2l3 -3l1 -8l-1 -8l-2 -4l-3 -3l-4 -1l-4 1l-5 7zM501 589l4 6l0 10l-4 6l-4 0l-4 -2l-3 -4l-1 -8l4 -8l4 -1l4 1z"/>
<path fill="#FFA0F0" stroke="#FFA0F0" stroke-width="0.9" fill-rule="evenodd" d="M1108 360l-27 1l-4 -2l-4 -4l-4 -9l-4 -5l-7 -3l-7 6l6 0l5 3l3 4l4 12l4 3l8 1l21 0l6 -7zM1032 339l-9 0l-6 7l12 0l3 -7zM1019 339l-56 -1l-20 2l-8 -4l-7 -12l-5 -5l-4 -1l-20 2l-5 -4l-6 -13l-19 -11l-13 -11l-4 -8l-6 -23l-6 -6l-8 -2l-8 1l-6 3l-11 15l-6 4l-20 -6l-20 6l-4 -2l-4 -6l-4 -11l-3 -4l-9 -4l-7 -1l-12 3l-4 2l-11 15l-9 3l-8 0l-8 -2l-4 -4l-8 -12l-4 -3l-7 -1l-36 1l-20 6l-16 -1l-3 1l-4 2l-12 13l-8 2l-16 -1l-4 3l-3 5l1 4l2 4l8 2l16 -1l4 3l5 8l1 7l-1 24l1 23l-4 35l0 8l3 8l7 6l7 0l7 -6l9 -19l4 -2l4 1l4 4l8 17l4 3l19 4l5 7l3 20l-5 20l-1 19l1 8l6 15l-6 16l-1 23l2 12l5 8l1 4l-2 8l-3 8l-4 3l-4 2l-4 -5l-3 -12l-5 -4l-4 -1l-8 1l-4 3l-8 9l-4 3l-4 -1l-1 -2l2 -16l-1 -6l-4 -5l-6 -5l-3 -4l1 -3l9 -8l2 -4l1 -12l-4 -7l-10 -8l-1 -4l3 -16l-1 -4l-6 -6l-8 -3l-16 -2l-8 0l-8 4l-5 3l-4 8l-3 20l-4 6l-4 0l-3 -6l-1 -4l4 -24l0 -31l-1 -8l-3 -5l-12 -10l0 -4l5 -12l-1 -4l-3 -4l-8 -3l-40 -2l-11 -3l-5 -2l-4 -5l-5 -16l-3 -4l-7 -8l-15 -11l-1 -4l4 -12l-1 -4l-7 -10l-6 -21l-6 -6l-16 -9l-8 -3l-8 -1l-11 0l-8 2l-4 3l-4 6l-4 13l-4 7l-11 7l-4 8l0 8l2 8l13 11l1 4l0 4l-6 12l1 4l4 3l8 1l18 -8l25 -8l8 0l5 4l0 12l-2 8l-3 2l-12 8l-8 13l-18 12l-3 8l3 11l-1 6l-4 3l-4 -1l-12 -5l-12 5l-4 0l-8 -6l-11 -13l-2 -8l5 -24l-2 -23l3 -20l-3 -7l-6 -5l-7 -2l-21 3l-3 43l-2 8l22 1l5 2l3 8l-2 16l1 8l21 19l14 8l4 4l0 8l-3 11l0 8l4 5l5 -1l3 -3l1 -5l-1 -23l4 -4l12 -4l4 -4l1 -4l-2 -15l1 -4l4 -4l11 -8l12 -16l12 -8l3 -7l1 -14l-1 -6l-3 -3l-4 -1l-35 8l-8 1l-7 -1l-5 -16l-12 -10l-3 -5l-1 -4l1 -8l3 -6l12 -9l8 -18l8 -7l8 -2l11 1l24 10l8 7l3 9l1 15l-3 16l2 8l3 3l14 7l6 5l9 12l8 16l8 6l15 5l9 6l4 1l8 -4l8 0l6 1l3 4l-1 4l-5 8l0 4l20 11l3 4l3 8l-1 31l-2 24l1 7l2 4l2 2l4 0l4 -4l6 -25l6 -8l4 -2l8 -2l12 1l11 3l5 4l2 8l-4 12l1 4l15 11l2 8l-1 8l-11 12l-1 3l1 4l10 8l3 4l0 4l-2 16l2 4l6 1l4 -1l8 -10l8 -4l8 1l4 5l2 8l-1 7l-13 7l-4 5l0 8l4 3l8 -4l4 -7l2 -8l14 -8l10 -19l0 -4l-9 -12l-2 -15l2 -16l9 -16l-1 -3l-7 -12l-2 -12l1 -15l8 -16l0 -8l-3 -12l-3 -15l-3 -4l-16 -1l-6 -3l-3 -4l-6 -16l-5 -4l-8 -1l-4 2l-4 3l-8 18l-4 4l-3 2l-4 -2l-4 -5l-2 -17l7 -27l-1 -19l0 -32l-3 -23l7 -12l3 -2l20 -2l16 -7l20 0l16 -2l7 3l8 14l4 3l8 2l16 0l8 -2l4 -3l6 -11l4 -4l6 -3l8 0l6 3l4 4l4 19l5 7l8 0l12 -8l8 -2l8 3l8 6l8 1l4 -1l3 -4l8 -14l4 -4l8 -1l4 1l4 4l7 24l8 11l9 6l15 6l4 4l5 14l3 4l8 1l16 -3l4 1l4 2l4 16l4 3l84 0l4 -7zM319 456l1 4l-1 7l-4 -1l0 -2l0 -4l4 -4zM627 593l-4 4l-4 0l-2 -4l2 -7l4 -2l5 1l1 4l-2 4zM1111 367l6 0l5 -1l-5 -2l-6 3zM1232 385l3 8l12 9l3 4l1 4l-2 3l-6 6l-21 2l4 4l25 1l23 3l5 -4l0 -8l-3 -11l1 -8l5 -3l16 -3l7 -2l9 -12l4 -3l4 1l16 11l8 0l7 -4l8 -8l4 -2l12 2l8 5l3 -4l12 -4l1 -3l9 -4l5 -9l5 2l14 -2l14 -5l-4 -4l-8 -4l-35 0l-6 4l-10 16l-4 1l-20 0l-4 3l-8 11l-7 4l-8 -5l-9 -10l0 -4l4 -16l1 -8l-17 0l0 20l-1 8l-10 19l-4 2l-8 1l-8 -2l-8 -5l-4 -4l-2 -8l3 -7l14 -12l2 -11l-11 5l-19 16l-2 18l-14 5l-9 1zM659 338l-6 5l-1 8l3 8l4 2l3 -2l2 -4l1 -8l-3 -6l-3 -3zM461 406l4 3l4 0l6 -3l0 -4l-6 -8l-4 0l-4 8l0 4zM406 465l-8 4l-8 12l-13 10l-3 8l1 8l3 4l5 0l6 -4l9 -14l8 -2l8 0l12 4l4 4l7 14l4 1l3 -3l1 -4l-3 -19l1 -51l-2 -8l-4 -3l-4 -1l-7 0l-8 4l-3 8l2 15l0 8l-3 2l-8 3zM423 449l-3 -8l1 -8l5 -4l4 -1l3 0l4 2l2 3l0 8l-2 7l-4 7l-3 0l-7 -6zM435 484l-2 8l-11 -6l-24 1l-3 -3l3 -8l4 -4l4 -1l6 1l10 6l11 -2l2 8zM377 503l1 -8l4 -4l8 -3l2 3l-6 15l-4 2l-4 -1l-1 -4zM1192 447l3 1l4 -3l0 -4l-4 -3l-3 0l-3 3l0 4l3 2zM339 503l-6 0l-2 4l4 4l6 0l2 -4l-4 -4zM507 527l-2 -6l-4 -2l-4 0l-4 3l-3 5l3 6l4 2l4 1l4 -3l2 -6zM494 530l-1 -3l4 -5l4 0l4 4l-1 4l-3 3l-4 0l-3 -3zM354 530l1 32l3 8l4 1l4 -1l3 -4l0 -4l-2 -12l0 -20l-1 -3l-4 -4l-4 0l-4 7zM365 546l2 16l-1 5l-4 2l-4 -2l-1 -5l-1 -28l2 -8l4 0l3 4l0 16zM563 597l13 4l2 0l2 -4l-2 -8l-2 -3l-4 -1l-6 0l-6 3l-2 1l1 4l4 4zM576 593l-4 4l-4 -2l-5 -2l1 -4l8 -1l2 1l2 4zM489 601l4 8l4 2l4 0l4 -6l-1 -12l-3 -4l-4 -1l-3 1l-4 4l-1 8zM503 597l-1 8l-1 3l-4 0l-4 -4l-1 -3l1 -7l4 -3l4 1l2 5zM584 612l3 3l8 -3l-3 -3l-5 -1l-4 1l1 3zM576 631l-12 7l-4 6l0 4l4 3l10 0l6 -3l2 -8l-2 -7l-4 -2zM576 636l2 4l1 4l-2 4l-5 1l-8 -1l-1 -4l3 -4l6 -4l4 0z"/>
<path fill="none" stroke="#B57565" stroke-width="30.0" stroke-linecap="round" stroke-linejoin="round" d="M1204.0,481.0 L1190.0,500.0 L1172.0,522.0 L1158.0,538.0"/>
<path fill="none" stroke="#A8685A" stroke-width="16.0" stroke-linecap="round" stroke-linejoin="round" d="M1158.0,538.0 L1140.0,556.0 L1118.0,576.0 L1098.0,594.0 L1088.0,602.0"/>
<path fill="none" stroke="#FF6FE6" stroke-width="13.0" stroke-linecap="round" stroke-linejoin="round" d="M1203.0,481.0 L1190.0,500.0 L1174.0,520.0 L1160.0,534.0"/>
<path fill="none" stroke="#D88AB8" stroke-width="6.0" stroke-linecap="round" stroke-linejoin="round" d="M1150.0,546.0 L1132.0,562.0 L1112.0,580.0 L1096.0,594.0"/>
<path fill="none" stroke="#FFFFFF" stroke-width="5.0" stroke-linecap="round" stroke-linejoin="round" d="M1195.0,489.0 L1184.0,504.0 L1172.0,518.0"/>
</g>
<path d="M237.3,251.9 L238.8,259.3 L243.0,268.5 L246.1,279.1 L249.3,288.3 L250.3,298.8 L251.4,307.3 L253.5,312.0 L253.5,322.6 L253.1,333.1 L251.4,343.6 L250.8,354.2 L249.9,367.3 L248.2,375.3 L245.1,385.8 L241.9,397.7 L243.6,406.9 L247.2,420.0 L248.2,426.6 L250.3,438.5 L248.2,450.4 L244.0,461.2 L250.3,471.4 L256.2,483.3 L257.7,499.1 L265.1,509.6 L272.4,517.5 L273.5,525.5 L284.0,530.7 L284.0,538.6 L288.2,547.8 L293.5,553.1 L298.7,557.1 L295.6,563.7 L297.7,571.6 L307.2,583.4 L317.7,594.0 L322.9,607.1 L324.0,616.4 L327.1,619.0 L342.9,620.3 L352.4,626.9 L361.9,630.3 L368.2,630.9 L370.3,637.4 L376.6,638.2 L381.8,641.9 L391.3,651.9 L394.5,661.2 L396.6,669.6 L447.7,664.6 L445.8,670.6 L524.5,701.2 L584.7,701.2 L584.7,689.3 L620.0,689.3 L624.9,695.4 L632.2,700.7 L641.7,711.2 L653.3,720.4 L658.5,731.0 L663.8,746.8 L673.3,754.7 L683.8,760.0 L690.1,763.1 L696.4,757.3 L700.6,744.2 L708.0,740.2 L719.5,741.5 L730.1,745.5 L738.5,753.4 L744.8,765.2 L751.1,781.0 L759.5,794.2 L767.9,803.4 L769.0,815.3 L776.3,829.8 L786.9,835.1 L795.3,840.3 L805.8,841.6 L812.1,845.6 L817.4,842.7 L816.3,833.7 L813.2,820.6 L813.2,807.4 L816.3,796.9 L820.5,789.0 L826.8,781.0 L835.3,777.1 L843.7,773.1 L852.1,767.9 L860.5,760.0 L865.8,754.7 L871.0,749.4 L879.4,745.5 L886.8,744.2 L898.4,742.3 L911.0,746.8 L921.5,748.1 L929.9,749.4 L936.3,752.1 L942.6,757.3 L951.0,760.5 L959.4,760.0 L965.7,758.6 L972.0,754.7 L976.2,757.3 L980.4,763.9 L985.7,762.6 L984.6,754.7 L978.3,749.4 L976.2,741.5 L978.3,734.9 L976.2,731.0 L982.5,727.0 L991.0,725.7 L1001.5,726.5 L1007.8,728.3 L1009.9,723.1 L1012.0,720.4 L1014.1,727.0 L1020.4,728.3 L1026.7,727.0 L1041.5,725.7 L1052.0,728.3 L1060.4,733.6 L1065.6,744.2 L1073.0,745.5 L1081.4,740.2 L1089.8,734.9 L1096.2,737.6 L1102.5,744.2 L1110.9,754.7 L1117.2,761.3 L1120.4,770.5 L1121.4,783.7 L1123.5,791.6 L1122.5,800.8 L1125.6,810.0 L1131.9,819.3 L1135.1,828.5 L1140.3,839.0 L1143.5,845.6 L1150.9,854.8 L1155.1,864.0 L1163.5,864.0 L1169.8,861.4 L1173.0,853.5 L1175.1,845.6 L1177.2,831.1 L1177.2,817.9 L1174.0,807.4 L1169.8,794.2 L1165.6,781.0 L1166.6,775.8 L1162.4,767.9 L1157.2,754.7 L1151.9,741.5 L1149.8,731.0 L1147.7,717.8 L1148.8,707.3 L1151.9,696.7 L1155.1,687.5 L1160.3,680.9 L1165.6,675.6 L1171.9,670.4 L1180.3,663.8 L1188.7,655.9 L1195.0,649.3 L1202.4,638.8 L1209.8,634.8 L1221.3,634.8 L1223.4,628.2 L1230.8,619.0 L1239.2,613.7 L1249.7,613.7 L1255.0,607.1 L1263.4,600.5 L1272.3,597.9 L1272.9,588.7 L1269.7,575.5 L1265.5,563.7 L1263.0,554.4 L1256.1,553.1 L1259.0,556.0 L1258.0,545.0 L1256.0,532.0 L1253.0,522.0 L1250.0,512.7 L1249.0,500.0 L1251.4,491.4 L1262.6,483.5 L1256.0,492.0 L1253.5,500.0 L1254.5,512.0 L1258.0,520.0 L1261.0,530.0 L1262.0,540.0 L1264.0,548.5 L1269.0,546.0 L1273.0,536.5 L1279.5,526.0 L1283.5,515.0 L1281.5,504.0 L1276.5,497.0 L1274.0,488.0 L1271.0,479.5 L1274.5,481.0 L1278.0,488.0 L1281.5,494.0 L1286.5,500.5 L1291.8,491.2 L1298.1,483.3 L1302.3,475.4 L1304.5,464.8 L1304.5,460.9 L1300.2,459.6 L1303.4,455.6 L1306.6,457.7 L1315.0,456.9 L1325.5,454.3 L1336.0,450.4 L1349.5,444.6 L1340.2,445.1 L1333.9,447.2 L1323.4,447.7 L1312.9,449.0 L1309.7,450.4 L1311.8,446.4 L1319.2,443.2 L1327.6,439.8 L1338.1,439.0 L1349.7,438.0 L1357.1,436.7 L1359.2,433.2 L1364.4,433.2 L1368.6,432.7 L1374.9,432.4 L1382.3,429.8 L1388.6,428.7 L1389.7,428.5 L1390.1,422.7 L1387.6,418.7 L1384.4,417.9 L1386.5,424.0 L1378.1,426.1 L1374.9,421.4 L1372.8,416.1 L1367.6,412.1 L1369.7,408.2 L1376.0,402.9 L1371.8,399.0 L1372.8,392.4 L1376.0,388.4 L1382.3,379.2 L1386.5,373.9 L1392.8,372.6 L1399.1,370.0 L1397.0,368.6 L1403.0,366.5 L1409.3,363.7 L1414.3,353.8 L1419.2,356.3 L1427.0,355.0 L1434.0,353.8 L1441.0,351.5 L1448.8,348.9 L1453.7,345.2 L1451.2,336.6 L1445.1,334.1 L1443.8,324.3 L1436.4,321.8 L1435.3,309.4 L1435.3,286.5 L1426.5,279.1 L1418.1,281.7 L1408.6,281.7 L1404.8,276.4 L1388.6,296.2 L1382.3,312.0 L1380.2,319.9 L1370.7,330.5 L1365.9,333.1 L1357.1,340.7 L1318.1,340.7 L1289.7,341.0 L1277.1,346.3 L1266.6,355.5 L1258.2,362.1 L1258.2,371.3 L1257.1,380.5 L1251.9,381.8 L1241.3,386.3 L1228.7,387.1 L1220.3,384.0 L1209.8,384.0 L1198.2,386.6 L1199.3,395.0 L1201.4,396.9 L1197.1,401.6 L1188.7,408.2 L1183.3,412.9 L1176.1,416.1 L1167.3,420.6 L1157.2,424.0 L1148.8,428.5 L1142.4,433.2 L1136.1,434.5 L1125.6,435.9 L1119.3,431.9 L1113.0,430.6 L1105.6,427.4 L1107.7,420.0 L1113.0,413.5 L1117.2,410.8 L1123.5,405.6 L1125.6,402.9 L1126.7,393.7 L1125.6,380.5 L1123.5,368.7 L1117.2,366.0 L1108.8,370.0 L1102.5,377.9 L1096.2,376.6 L1096.2,368.7 L1104.6,362.1 L1108.8,354.2 L1108.8,345.0 L1107.7,339.7 L1104.6,331.8 L1094.1,329.1 L1087.7,325.2 L1078.3,320.4 L1074.1,322.6 L1072.0,329.1 L1064.6,335.7 L1060.4,338.4 L1053.0,343.6 L1046.7,351.5 L1046.7,359.4 L1042.5,366.0 L1042.5,375.3 L1045.7,388.4 L1047.8,399.0 L1045.7,409.5 L1041.5,417.4 L1035.1,425.3 L1028.8,429.3 L1022.5,430.6 L1019.4,426.6 L1017.3,420.0 L1014.1,409.5 L1013.0,399.0 L1012.0,391.1 L1015.2,380.5 L1016.2,370.0 L1019.4,362.1 L1023.6,351.5 L1029.9,341.0 L1030.9,333.1 L1024.6,341.0 L1018.3,347.6 L1010.9,352.9 L1013.0,345.0 L1017.3,338.4 L1018.3,331.8 L1024.6,325.2 L1029.9,321.2 L1037.2,318.6 L1041.5,321.2 L1045.7,316.0 L1056.2,312.0 L1064.6,312.5 L1073.0,314.6 L1078.3,318.1 L1085.6,315.2 L1094.1,314.6 L1096.2,315.2 L1091.9,308.1 L1086.7,301.5 L1081.4,302.8 L1073.0,294.9 L1062.5,297.0 L1052.0,297.0 L1039.3,303.6 L1028.8,301.5 L1022.5,301.5 L1016.2,293.6 L1007.8,290.9 L1001.5,289.6 L1005.7,283.0 L1013.0,277.8 L1016.2,276.4 L1005.7,276.4 L999.4,281.7 L993.1,288.3 L984.6,292.3 L969.9,297.5 L959.4,299.6 L952.0,297.5 L949.9,289.6 L942.6,292.3 L934.1,295.7 L925.7,296.2 L923.6,294.9 L929.9,290.9 L938.4,284.3 L948.9,276.4 L957.3,269.9 L967.8,265.9 L976.2,262.5 L967.8,259.3 L951.0,256.7 L936.3,259.3 L925.7,254.0 L913.1,250.1 L900.5,245.6 L887.9,248.2 L871.0,243.0 L868.9,236.9 L859.5,235.6 L859.5,225.6 L863.7,225.9 L860.5,230.3 L859.5,235.6 L278.5,235.6 L278.8,240.9 L284.0,243.5 L284.0,251.4 L286.1,256.7 L288.2,264.6 L286.1,272.5 L284.0,280.4 L275.6,287.0 L279.8,275.1 L280.9,267.2 L278.8,259.3 L271.4,258.0 L263.0,258.0 L252.5,256.7 L244.0,254.0Z" fill="none" stroke="#000" stroke-width="3.7" stroke-linejoin="round"/>
<path d="M251.4,307.3 L265.1,309.4 L273.5,312.0 L277.7,317.3 L278.8,323.9 L290.3,326.5 L311.4,325.2 L326.1,322.6 L345.0,317.3 L357.7,316.0 L358.1,314.6 L401.4,314.6 M398.9,235.6 L398.9,303.6 L401.4,314.6 M401.4,314.6 L410.3,325.2 L406.0,338.4 L399.7,346.3 L395.5,359.4 L401.8,364.7 L399.1,372.6 L399.1,420.0 M247.2,420.0 L524.9,420.0 M336.6,420.0 L336.6,499.1 L449.6,604.5 M449.6,604.5 L451.3,609.8 L454.4,620.3 L454.4,628.2 L452.3,638.8 L448.1,646.7 L452.3,657.2 L447.7,664.6 M449.6,604.5 L450.9,599.2 L448.1,583.4 L454.4,575.5 L461.8,572.9 L461.8,420.0 M461.8,551.8 L694.3,551.8 M567.0,446.4 L567.0,701.2 M524.9,420.0 L524.9,446.4 L714.3,446.4 M524.9,420.0 L524.9,341.0 M524.9,354.2 L517.6,348.9 L504.9,352.9 L488.1,356.8 L477.6,346.3 L473.4,338.4 L465.0,325.2 L452.3,326.5 L456.5,309.4 L452.3,296.2 L441.8,289.6 L427.1,277.8 L419.7,263.3 L419.7,235.6 M524.9,341.0 L672.2,341.0 M672.2,235.6 L672.2,446.4 M714.3,446.4 L714.3,551.8 M714.3,472.8 L856.3,472.8 M694.3,551.8 L694.3,683.5 L618.1,683.5 M694.3,565.0 L757.4,565.0 L757.4,616.1 M714.3,551.8 L870.6,551.8 M618.1,683.5 L620.0,689.3 M757.4,616.1 L767.9,620.3 L774.2,625.6 L789.0,628.2 L801.6,634.8 L816.3,634.8 L831.1,636.1 L845.8,634.8 L858.4,632.2 L873.1,640.6 L882.8,642.7 M882.8,642.7 L882.8,683.5 L887.9,696.7 L893.1,709.9 L890.0,723.1 L888.9,736.2 L886.8,744.2 M672.2,316.2 L829.8,316.2 M829.8,316.2 L828.9,306.7 L824.7,298.8 L823.7,280.4 L820.5,269.9 L818.4,259.3 L817.4,246.1 L815.7,235.6 M829.8,316.2 L827.9,325.2 L832.1,333.1 L832.1,380.5 M672.2,393.7 L789.0,393.7 L799.5,399.0 L810.0,397.7 L820.5,399.8 L828.9,406.9 M828.9,406.9 L832.1,380.5 M832.1,380.5 L942.1,380.5 M828.9,406.9 L834.2,414.8 L839.5,425.3 L843.7,438.5 L844.7,446.4 L846.4,457.5 L856.3,472.8 L862.6,478.0 L864.7,488.6 L871.0,495.9 L870.6,551.8 L870.6,565.0 M846.4,457.5 L932.0,457.5 L937.9,462.7 M870.6,565.0 L874.6,594.0 L873.6,640.3 M870.6,565.0 L964.7,565.0 L960.0,578.1 L974.1,578.1 M882.8,656.7 L943.4,656.7 M923.6,294.9 L919.4,297.5 L919.6,314.6 L911.0,325.2 L908.9,341.0 L910.0,347.6 L925.7,356.8 L936.3,367.3 L942.1,380.5 M942.1,380.5 L944.7,393.7 L954.1,406.9 L963.6,420.0 L959.4,430.6 L955.2,434.5 L946.8,442.4 L944.7,454.3 L937.9,462.7 L936.3,472.8 L938.4,483.3 L948.9,491.2 L958.3,500.4 L963.6,507.0 L963.6,516.2 L974.1,529.4 L978.3,543.9 L985.7,551.8 L985.7,558.4 L978.3,565.0 L976.2,575.5 L974.1,578.1 L967.8,591.3 L966.3,600.5 L961.5,611.1 L955.2,622.9 L946.8,633.5 L943.6,646.7 L943.4,657.2 L946.8,670.4 L948.9,674.3 L940.5,686.2 L936.3,702.0 L934.1,709.9 L973.5,709.9 L972.0,720.4 L976.2,731.0 M954.3,406.9 L1014.1,406.9 M959.4,299.6 L965.3,305.7 L986.7,311.2 L1003.6,315.2 L1009.9,319.9 L1014.1,331.8 L1018.3,338.4 M1019.8,426.4 L1019.8,489.9 L1018.3,499.1 L1020.4,507.0 L1012.0,517.5 L1009.9,530.7 L1007.8,538.6 M1035.1,426.4 L1077.2,426.4 L1077.2,428.0 L1105.6,427.4 M1076.8,428.0 L1076.8,496.5 M985.7,551.8 L999.4,549.2 L1007.8,538.6 L1018.3,528.1 L1030.9,528.1 L1041.5,528.1 L1052.0,525.5 L1056.2,518.9 L1064.6,507.0 L1077.2,504.4 L1076.8,496.5 L1087.7,501.7 L1100.4,508.3 L1115.1,505.7 L1123.5,512.3 L1131.9,504.4 L1140.3,496.5 L1146.7,489.9 L1157.2,483.3 L1160.3,479.3 L1165.6,464.8 L1167.3,455.9 M1167.3,480.1 L1167.3,420.6 M1167.3,480.1 L1266.8,480.1 M1189.2,480.1 L1189.2,493.8 L1199.3,487.2 L1209.8,484.6 L1220.3,483.3 L1226.6,489.9 M1226.6,489.9 L1224.5,496.5 L1212.9,488.6 L1208.7,499.1 L1201.4,505.7 L1195.0,513.6 L1188.7,512.3 L1184.5,516.2 L1178.2,528.1 L1171.9,536.0 L1161.4,541.3 L1153.0,545.2 L1142.4,546.5 L1136.8,537.6 M1136.8,537.6 L1129.8,533.4 L1123.5,521.0 L1123.5,512.3 M1136.8,537.6 L1100.8,562.3 M1100.8,562.3 L1008.8,562.3 L1008.8,565.0 L978.3,565.0 M1100.8,562.3 L1142.9,562.6 L1265.5,563.7 M1142.9,562.6 L1138.2,570.2 L1127.7,575.5 L1117.2,579.5 L1104.6,590.0 L1094.1,591.3 L1087.7,599.2 L1087.3,604.8 M1113.0,604.5 L961.5,604.5 M1113.0,604.5 L1127.7,599.2 L1156.1,600.5 L1158.6,601.9 L1161.8,609.2 L1184.9,609.8 L1208.7,634.8 M1113.0,604.5 L1108.8,612.4 L1119.3,625.6 L1131.9,641.4 L1138.2,649.3 L1146.7,665.1 L1155.1,678.3 L1159.3,682.2 M1060.4,604.5 L1068.8,659.8 L1073.0,670.4 L1070.9,688.8 L1073.0,709.9 M1073.0,709.9 L1076.0,717.8 L1131.9,721.2 L1136.1,721.8 L1135.1,726.8 L1147.7,717.8 M1018.3,709.9 L1073.0,709.9 M1018.3,709.9 L1020.4,728.3 M1005.7,604.5 L1000.0,686.2 L1001.5,726.5 M1183.3,412.9 L1183.3,420.0 L1276.0,420.0 L1281.3,425.3 L1289.7,437.2 M1289.7,437.2 L1306.6,446.4 M1289.7,437.2 L1281.3,449.0 L1282.4,459.6 L1288.7,467.5 L1281.3,472.8 L1275.0,478.0 M1266.8,480.1 L1272.9,477.2 L1275.0,478.0 M1266.8,480.1 L1266.8,513.6 L1282.4,513.6 M1278.4,524.7 L1269.7,526.8 M1226.6,489.9 L1230.8,496.5 L1239.2,500.4 L1241.3,504.4 L1237.1,514.9 L1256.1,525.5 M1318.1,340.7 L1319.2,356.8 L1317.1,377.9 L1320.2,379.2 L1320.0,400.3 M1320.0,400.3 L1315.0,418.7 L1315.2,425.3 L1313.9,438.5 L1311.8,446.4 M1357.1,340.7 L1348.6,348.9 L1346.5,358.1 L1340.2,370.0 L1338.1,380.5 L1336.9,400.8 M1320.0,400.3 L1336.9,400.8 L1361.3,401.6 L1371.8,397.1 M1315.0,418.7 L1359.6,419.5 L1359.6,422.7 L1365.0,433.2 M1350.7,419.3 L1350.7,438.0 M1365.9,333.1 L1367.6,354.2 L1368.0,367.3 L1367.6,380.5 L1373.9,391.9" fill="none" stroke="#000" stroke-width="3.7" stroke-linejoin="round" stroke-linecap="round"/>
<path fill="#000"  d="M279.0,236.0 L285.0,236.0 L287.0,242.0 L286.0,248.0 L289.0,252.0 L292.0,261.0 L289.0,268.0 L290.0,276.0 L287.0,284.0 L281.0,289.0 L273.0,288.0 L270.0,282.0 L270.0,274.0 L274.0,266.0 L276.0,262.0 L277.0,256.0 L272.0,252.0 L269.0,247.0 L272.0,243.0 L278.0,242.0 Z"/>
<path fill="#000"  d="M283.0,520.0 L289.0,519.0 L293.0,522.0 L292.0,525.5 L289.0,527.0 L292.0,532.0 L297.0,537.0 L296.5,541.0 L293.0,541.5 L288.0,537.0 L284.0,532.0 L283.0,527.0 Z"/>
<path fill="none" stroke="#000" stroke-width="3.6" stroke-linecap="round" stroke-linejoin="round" d="M1237.0,513.0 L1247.0,521.0 L1257.0,529.5"/>
<path fill="none" stroke="#000" stroke-width="3.6" stroke-linecap="round" stroke-linejoin="round" d="M1245.8,537.3 L1255.9,541.8"/>
<path fill="none" stroke="#000" stroke-width="3.6" stroke-linecap="round" stroke-linejoin="round" d="M1242.4,545.2 L1257.0,549.6"/>
<path fill="none" stroke="#000" stroke-width="3.6" stroke-linecap="round" stroke-linejoin="round" d="M1249.1,553.0 L1258.1,556.4"/>
<path fill="none" stroke="#000" stroke-width="4.0" stroke-linecap="round" stroke-linejoin="round" d="M1249.5,552.0 L1256.0,556.0"/>
<path fill="none" stroke="#000" stroke-width="3.5" stroke-linecap="round" stroke-linejoin="round" d="M1247.5,569.6 L1247.5,580.6 L1253.8,575.9 L1260.8,571.2 L1264.0,575.9 L1262.4,585.3 L1267.0,587.7 L1264.0,592.4 L1256.9,594.0 L1249.8,590.0 L1242.0,591.6"/>
<path fill="none" stroke="#000" stroke-width="3.5" stroke-linecap="round" stroke-linejoin="round" d="M1240.4,601.0 L1249.8,606.5 L1256.0,605.0 L1253.0,598.7"/>
<ellipse cx="964.5" cy="731" rx="5" ry="4.2" fill="#9C8410" stroke="#000" stroke-width="3"/>
<path fill="none" stroke="#000" stroke-width="3.6" stroke-linecap="round" stroke-linejoin="round" d="M968.0,736.0 L975.3,736.1 L978.5,747.1 L990.3,758.1"/>
<ellipse cx="1376.5" cy="436" rx="4.5" ry="2.8" fill="#000"/>
<ellipse cx="1388.5" cy="438.5" rx="4" ry="3" fill="#000"/>
<ellipse cx="1118.0" cy="878.5" rx="3" ry="1.5" fill="#B8F000"/>
<ellipse cx="1126.0" cy="877.0" rx="3" ry="1.5" fill="#B8F000"/>
<ellipse cx="1134.0" cy="875.5" rx="3" ry="1.5" fill="#B8F000"/>
<ellipse cx="1142.0" cy="873.0" rx="3" ry="1.5" fill="#B8F000"/>
<ellipse cx="1150.0" cy="870.0" rx="3" ry="1.5" fill="#B8F000"/>
<ellipse cx="1157.0" cy="867.0" rx="3" ry="1.5" fill="#B8F000"/>
<ellipse cx="1163.0" cy="864.0" rx="3" ry="1.5" fill="#B8F000"/>
<path fill="none" stroke="#5599DD" stroke-width="2" d="M327,631 l8,1 M338,632 l7,0"/>
<ellipse cx="357" cy="644.5" rx="1.2" ry="1.2" fill="#954535"/>
<ellipse cx="370" cy="646.5" rx="3" ry="1.5" fill="#D09090" transform="rotate(30 370 646.5)"/>
<ellipse cx="368.5" cy="660" rx="1.6" ry="3.8" fill="#B06050" transform="rotate(-30 368.5 660)"/>
<ellipse cx="346.5" cy="651" rx="1.8" ry="1.8" fill="#FF55E8"/>
<path fill="#000"  d="M1259.0,556.0 L1258.0,545.0 L1256.0,532.0 L1253.0,522.0 L1250.0,512.7 L1249.0,500.0 L1251.4,491.4 L1262.6,483.5 L1256.0,492.0 L1253.5,500.0 L1254.5,512.0 L1258.0,520.0 L1261.0,530.0 L1262.0,540.0 L1264.0,548.5 Z"/>
<ellipse cx="1064.5" cy="342" rx="2.6" ry="4.8" fill="#000" transform="rotate(20 1064.5 342)"/>
<ellipse cx="1030.5" cy="337" rx="2" ry="5" fill="#000" transform="rotate(35 1030.5 337)"/>
<text x="1498" y="336.7" class="lt">Avg. date of</text>
<text x="1498" y="364.8" class="lt">1st gen. larval</text>
<text x="1498" y="392.6" class="lt">development</text>
<rect x="1497" y="407.00" width="26" height="25.6" fill="#CCFF00"/>
<text x="1534.5" y="426.7" class="lab">Apr-04</text>
<rect x="1497" y="432.45" width="26" height="25.6" fill="#A8EE00"/>
<text x="1534.5" y="452.1" class="lab">Apr-11</text>
<rect x="1497" y="457.90" width="26" height="25.6" fill="#80E010"/>
<text x="1534.5" y="477.6" class="lab">Apr-19</text>
<rect x="1497" y="483.35" width="26" height="25.6" fill="#50D010"/>
<text x="1534.5" y="503.1" class="lab">Apr-25</text>
<rect x="1497" y="508.80" width="26" height="25.6" fill="#FFFF00"/>
<text x="1534.5" y="528.5" class="lab">May-02</text>
<rect x="1497" y="534.25" width="26" height="25.6" fill="#E5D800"/>
<text x="1534.5" y="554.0" class="lab">May-09</text>
<rect x="1497" y="559.70" width="26" height="25.6" fill="#C2AE00"/>
<text x="1534.5" y="579.4" class="lab">May-16</text>
<rect x="1497" y="585.15" width="26" height="25.6" fill="#9C8410"/>
<text x="1534.5" y="604.9" class="lab">May-23</text>
<rect x="1497" y="610.60" width="26" height="25.6" fill="#7A5C10"/>
<text x="1534.5" y="630.3" class="lab">May-30</text>
<rect x="1497" y="636.05" width="26" height="25.6" fill="#FFD490"/>
<text x="1534.5" y="655.8" class="lab">Jun-06</text>
<rect x="1497" y="661.50" width="26" height="25.6" fill="#FFC070"/>
<text x="1534.5" y="681.2" class="lab">Jun-13</text>
<rect x="1497" y="686.95" width="26" height="25.6" fill="#FFAA50"/>
<text x="1534.5" y="706.7" class="lab">Jun-20</text>
<rect x="1497" y="712.40" width="26" height="25.6" fill="#FF9530"/>
<text x="1534.5" y="732.1" class="lab">Jun-27</text>
<rect x="1497" y="737.85" width="26" height="25.6" fill="#F5CCCC"/>
<text x="1534.5" y="757.5" class="lab">Jul-04</text>
<rect x="1497" y="763.30" width="26" height="25.6" fill="#F4999B"/>
<text x="1534.5" y="783.0" class="lab">Jul-11</text>
<rect x="1624" y="407.00" width="26" height="25.6" fill="#F46666"/>
<text x="1661.5" y="426.7" class="lab">Jul-18</text>
<rect x="1624" y="432.45" width="26" height="25.6" fill="#FF3333"/>
<text x="1661.5" y="452.1" class="lab">Jul-25</text>
<rect x="1624" y="457.90" width="26" height="25.6" fill="#E6B4AA"/>
<text x="1661.5" y="477.6" class="lab">Aug-01</text>
<rect x="1624" y="483.35" width="26" height="25.6" fill="#C98E82"/>
<text x="1661.5" y="503.1" class="lab">Aug-08</text>
<rect x="1624" y="508.80" width="26" height="25.6" fill="#AD6A5A"/>
<text x="1661.5" y="528.5" class="lab">Aug-15</text>
<rect x="1624" y="534.25" width="26" height="25.6" fill="#954535"/>
<text x="1661.5" y="554.0" class="lab">Aug-22</text>
<rect x="1624" y="559.70" width="26" height="25.6" fill="#7E2010"/>
<text x="1661.5" y="579.4" class="lab">Aug-29</text>
<rect x="1624" y="585.15" width="26" height="25.6" fill="#FFB0E0"/>
<text x="1661.5" y="604.9" class="lab">Sep-05</text>
<rect x="1624" y="610.60" width="26" height="25.6" fill="#FF80E0"/>
<text x="1661.5" y="630.3" class="lab">Sep-12</text>
<rect x="1624" y="636.05" width="26" height="25.6" fill="#FF55E8"/>
<text x="1661.5" y="655.8" class="lab">Sep-19</text>
<rect x="1624" y="661.50" width="26" height="25.6" fill="#FF22EE"/>
<text x="1661.5" y="681.2" class="lab">Sep-26</text>
<rect x="1624" y="686.95" width="26" height="25.6" fill="#E0C4E8"/>
<text x="1661.5" y="706.7" class="lab">Oct-03</text>
<rect x="1624" y="712.40" width="26" height="25.6" fill="#C89AD8"/>
<text x="1661.5" y="732.1" class="lab">Oct-10</text>
<rect x="1624" y="737.85" width="26" height="25.6" fill="#B070C8"/>
<text x="1661.5" y="757.5" class="lab">Oct-17</text>
<rect x="1624" y="763.30" width="26" height="25.6" fill="#9A4AB8"/>
<text x="1661.5" y="783.0" class="lab">Oct-25</text>
<rect x="1749" y="407.00" width="25" height="25.6" fill="#B3EBFA"/>
<text x="1786.5" y="426.7" class="lab">Nov-01</text>
<rect x="1749" y="432.45" width="25" height="25.6" fill="#85D3F0"/>
<text x="1786.5" y="452.1" class="lab">Nov-08</text>
<rect x="1749" y="457.90" width="25" height="25.6" fill="#5CBDE5"/>
<text x="1786.5" y="477.6" class="lab">Nov-15</text>
<rect x="1749" y="483.35" width="25" height="25.6" fill="#33A6DA"/>
<text x="1786.5" y="503.1" class="lab">Nov-22</text>
<rect x="1749" y="508.80" width="25" height="25.6" fill="#0A90CF"/>
<text x="1786.5" y="528.5" class="lab">Nov-28</text>
<rect x="1749" y="534.25" width="25" height="25.6" fill="#A3C3E6"/>
<text x="1786.5" y="554.0" class="lab">Dec-06</text>
<rect x="1749" y="559.70" width="25" height="25.6" fill="#7A95E8"/>
<text x="1786.5" y="579.4" class="lab">Dec-14</text>
<rect x="1749" y="585.15" width="25" height="25.6" fill="#5061EE"/>
<text x="1786.5" y="604.9" class="lab">Dec-20</text>
<rect x="1749" y="610.60" width="25" height="25.6" fill="#2828F8"/>
<text x="1786.5" y="630.3" class="lab">Dec-30</text>
</svg>
</body></html>
